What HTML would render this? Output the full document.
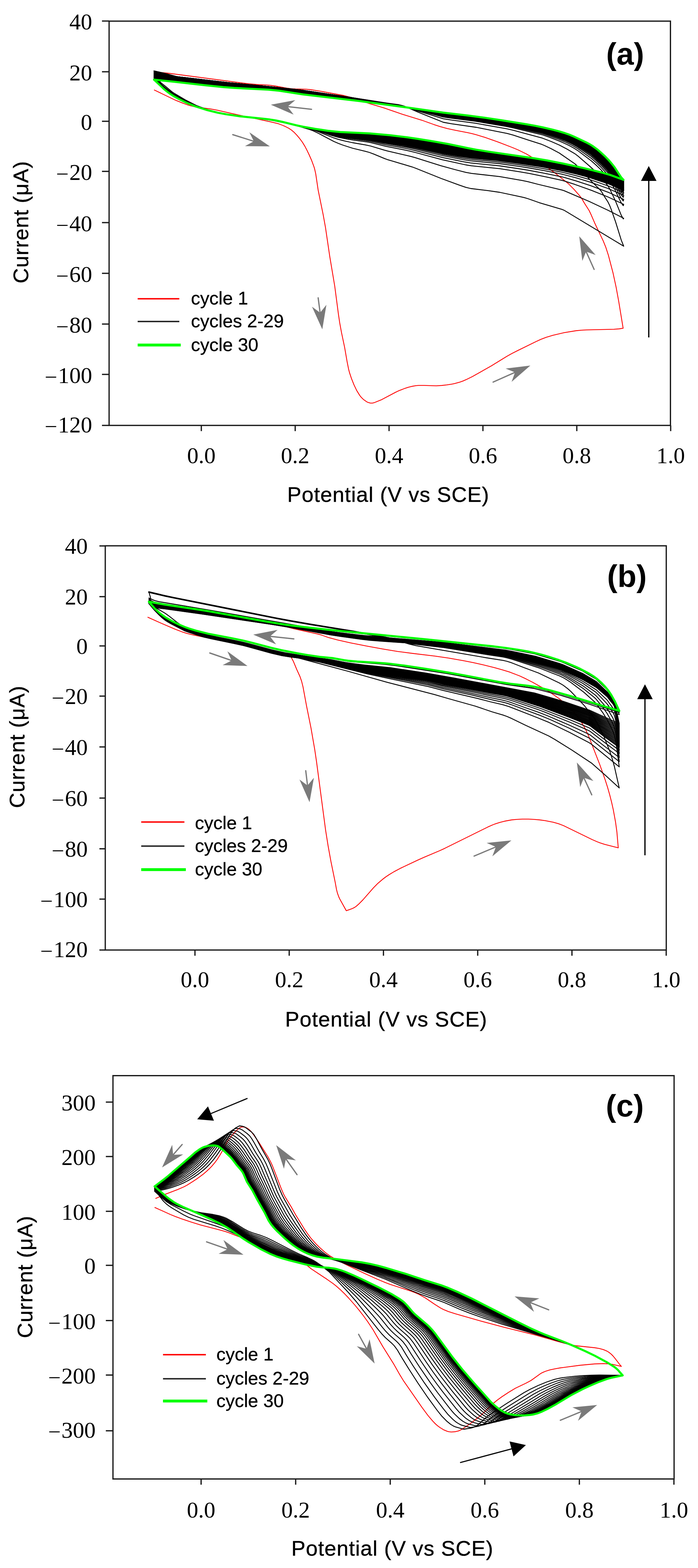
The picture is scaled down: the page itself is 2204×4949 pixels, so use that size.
<!DOCTYPE html>
<html><head><meta charset="utf-8"><title>Cyclic voltammograms</title>
<style>html,body{margin:0;padding:0;background:#fff;} svg{display:block;}</style></head>
<body>
<svg width="2204" height="4949" viewBox="0 0 2204 4949">
<rect width="2204" height="4949" fill="#fff"/>
<rect x="344.5" y="66.7" width="1772.5" height="1276.0" fill="none" stroke="#1a1a1a" stroke-width="4"/>
<line x1="322.0" y1="66.4" x2="344.5" y2="66.4" stroke="#1a1a1a" stroke-width="4"/>
<line x1="322.0" y1="226.5" x2="344.5" y2="226.5" stroke="#1a1a1a" stroke-width="4"/>
<line x1="322.0" y1="382.8" x2="344.5" y2="382.8" stroke="#1a1a1a" stroke-width="4"/>
<line x1="322.0" y1="540.9" x2="344.5" y2="540.9" stroke="#1a1a1a" stroke-width="4"/>
<line x1="322.0" y1="702.6" x2="344.5" y2="702.6" stroke="#1a1a1a" stroke-width="4"/>
<line x1="322.0" y1="862.7" x2="344.5" y2="862.7" stroke="#1a1a1a" stroke-width="4"/>
<line x1="322.0" y1="1022.8" x2="344.5" y2="1022.8" stroke="#1a1a1a" stroke-width="4"/>
<line x1="322.0" y1="1181.7" x2="344.5" y2="1181.7" stroke="#1a1a1a" stroke-width="4"/>
<line x1="322.0" y1="1342.7" x2="344.5" y2="1342.7" stroke="#1a1a1a" stroke-width="4"/>
<line x1="635.7" y1="1342.7" x2="635.7" y2="1360.7" stroke="#1a1a1a" stroke-width="4"/>
<line x1="932.1" y1="1342.7" x2="932.1" y2="1360.7" stroke="#1a1a1a" stroke-width="4"/>
<line x1="1228.5" y1="1342.7" x2="1228.5" y2="1360.7" stroke="#1a1a1a" stroke-width="4"/>
<line x1="1524.9" y1="1342.7" x2="1524.9" y2="1360.7" stroke="#1a1a1a" stroke-width="4"/>
<line x1="1821.3" y1="1342.7" x2="1821.3" y2="1360.7" stroke="#1a1a1a" stroke-width="4"/>
<line x1="2117.7" y1="1342.7" x2="2117.7" y2="1360.7" stroke="#1a1a1a" stroke-width="4"/>
<text x="291" y="93.4" text-anchor="end" font-family="'Liberation Serif','Times New Roman',serif" font-size="72">40</text>
<text x="291" y="253.5" text-anchor="end" font-family="'Liberation Serif','Times New Roman',serif" font-size="72">20</text>
<text x="291" y="409.8" text-anchor="end" font-family="'Liberation Serif','Times New Roman',serif" font-size="72">0</text>
<text x="291" y="567.9" text-anchor="end" font-family="'Liberation Serif','Times New Roman',serif" font-size="72"><tspan font-size="64" dy="-4">–</tspan><tspan dx="6" dy="4">20</tspan></text>
<text x="291" y="729.6" text-anchor="end" font-family="'Liberation Serif','Times New Roman',serif" font-size="72"><tspan font-size="64" dy="-4">–</tspan><tspan dx="6" dy="4">40</tspan></text>
<text x="291" y="889.7" text-anchor="end" font-family="'Liberation Serif','Times New Roman',serif" font-size="72"><tspan font-size="64" dy="-4">–</tspan><tspan dx="6" dy="4">60</tspan></text>
<text x="291" y="1049.8" text-anchor="end" font-family="'Liberation Serif','Times New Roman',serif" font-size="72"><tspan font-size="64" dy="-4">–</tspan><tspan dx="6" dy="4">80</tspan></text>
<text x="291" y="1208.7" text-anchor="end" font-family="'Liberation Serif','Times New Roman',serif" font-size="72"><tspan font-size="64" dy="-4">–</tspan><tspan dx="6" dy="4">100</tspan></text>
<text x="291" y="1364.6" text-anchor="end" font-family="'Liberation Serif','Times New Roman',serif" font-size="72"><tspan font-size="64" dy="-4">–</tspan><tspan dx="6" dy="4">120</tspan></text>
<text x="635.7" y="1462" text-anchor="middle" font-family="'Liberation Serif','Times New Roman',serif" font-size="72">0.0</text>
<text x="932.1" y="1462" text-anchor="middle" font-family="'Liberation Serif','Times New Roman',serif" font-size="72">0.2</text>
<text x="1228.5" y="1462" text-anchor="middle" font-family="'Liberation Serif','Times New Roman',serif" font-size="72">0.4</text>
<text x="1524.9" y="1462" text-anchor="middle" font-family="'Liberation Serif','Times New Roman',serif" font-size="72">0.6</text>
<text x="1821.3" y="1462" text-anchor="middle" font-family="'Liberation Serif','Times New Roman',serif" font-size="72">0.8</text>
<text x="2117.7" y="1462" text-anchor="middle" font-family="'Liberation Serif','Times New Roman',serif" font-size="72">1.0</text>
<text x="1226" y="1583.5" text-anchor="middle" font-family="'Liberation Sans',Arial,sans-serif" font-size="67" letter-spacing="1.4" stroke="#000" stroke-width="0.6">Potential (V vs SCE)</text>
<text transform="translate(89,701) rotate(-90)" x="0" y="0" text-anchor="middle" font-family="'Liberation Sans',Arial,sans-serif" font-size="67" letter-spacing="1.4" stroke="#000" stroke-width="0.6">Current (μA)</text>
<text x="1914" y="204" font-family="'Liberation Sans',Arial,sans-serif" font-weight="bold" font-size="98">(a)</text>
<rect x="332.4" y="1722.7" width="1771.4" height="1275.8" fill="none" stroke="#1a1a1a" stroke-width="4"/>
<line x1="313.9" y1="1723.1" x2="332.4" y2="1723.1" stroke="#1a1a1a" stroke-width="4"/>
<line x1="313.9" y1="1883.2" x2="332.4" y2="1883.2" stroke="#1a1a1a" stroke-width="4"/>
<line x1="313.9" y1="2038.7" x2="332.4" y2="2038.7" stroke="#1a1a1a" stroke-width="4"/>
<line x1="313.9" y1="2197.1" x2="332.4" y2="2197.1" stroke="#1a1a1a" stroke-width="4"/>
<line x1="313.9" y1="2357.5" x2="332.4" y2="2357.5" stroke="#1a1a1a" stroke-width="4"/>
<line x1="313.9" y1="2518.9" x2="332.4" y2="2518.9" stroke="#1a1a1a" stroke-width="4"/>
<line x1="313.9" y1="2679.0" x2="332.4" y2="2679.0" stroke="#1a1a1a" stroke-width="4"/>
<line x1="313.9" y1="2837.8" x2="332.4" y2="2837.8" stroke="#1a1a1a" stroke-width="4"/>
<line x1="313.9" y1="2998.5" x2="332.4" y2="2998.5" stroke="#1a1a1a" stroke-width="4"/>
<line x1="615.6" y1="2998.5" x2="615.6" y2="3016.5" stroke="#1a1a1a" stroke-width="4"/>
<line x1="913.2" y1="2998.5" x2="913.2" y2="3016.5" stroke="#1a1a1a" stroke-width="4"/>
<line x1="1210.8" y1="2998.5" x2="1210.8" y2="3016.5" stroke="#1a1a1a" stroke-width="4"/>
<line x1="1508.4" y1="2998.5" x2="1508.4" y2="3016.5" stroke="#1a1a1a" stroke-width="4"/>
<line x1="1806.0" y1="2998.5" x2="1806.0" y2="3016.5" stroke="#1a1a1a" stroke-width="4"/>
<line x1="2103.6" y1="2998.5" x2="2103.6" y2="3016.5" stroke="#1a1a1a" stroke-width="4"/>
<text x="277" y="1748.1" text-anchor="end" font-family="'Liberation Serif','Times New Roman',serif" font-size="72">40</text>
<text x="277" y="1908.2" text-anchor="end" font-family="'Liberation Serif','Times New Roman',serif" font-size="72">20</text>
<text x="277" y="2063.7" text-anchor="end" font-family="'Liberation Serif','Times New Roman',serif" font-size="72">0</text>
<text x="277" y="2222.1" text-anchor="end" font-family="'Liberation Serif','Times New Roman',serif" font-size="72"><tspan font-size="64" dy="-4">–</tspan><tspan dx="6" dy="4">20</tspan></text>
<text x="277" y="2382.5" text-anchor="end" font-family="'Liberation Serif','Times New Roman',serif" font-size="72"><tspan font-size="64" dy="-4">–</tspan><tspan dx="6" dy="4">40</tspan></text>
<text x="277" y="2543.9" text-anchor="end" font-family="'Liberation Serif','Times New Roman',serif" font-size="72"><tspan font-size="64" dy="-4">–</tspan><tspan dx="6" dy="4">60</tspan></text>
<text x="277" y="2704.0" text-anchor="end" font-family="'Liberation Serif','Times New Roman',serif" font-size="72"><tspan font-size="64" dy="-4">–</tspan><tspan dx="6" dy="4">80</tspan></text>
<text x="277" y="2862.8" text-anchor="end" font-family="'Liberation Serif','Times New Roman',serif" font-size="72"><tspan font-size="64" dy="-4">–</tspan><tspan dx="6" dy="4">100</tspan></text>
<text x="277" y="3021.0" text-anchor="end" font-family="'Liberation Serif','Times New Roman',serif" font-size="72"><tspan font-size="64" dy="-4">–</tspan><tspan dx="6" dy="4">120</tspan></text>
<text x="615.6" y="3115.5" text-anchor="middle" font-family="'Liberation Serif','Times New Roman',serif" font-size="72">0.0</text>
<text x="913.2" y="3115.5" text-anchor="middle" font-family="'Liberation Serif','Times New Roman',serif" font-size="72">0.2</text>
<text x="1210.8" y="3115.5" text-anchor="middle" font-family="'Liberation Serif','Times New Roman',serif" font-size="72">0.4</text>
<text x="1508.4" y="3115.5" text-anchor="middle" font-family="'Liberation Serif','Times New Roman',serif" font-size="72">0.6</text>
<text x="1806.0" y="3115.5" text-anchor="middle" font-family="'Liberation Serif','Times New Roman',serif" font-size="72">0.8</text>
<text x="2103.6" y="3115.5" text-anchor="middle" font-family="'Liberation Serif','Times New Roman',serif" font-size="72">1.0</text>
<text x="1219.5" y="3240" text-anchor="middle" font-family="'Liberation Sans',Arial,sans-serif" font-size="67" letter-spacing="1.4" stroke="#000" stroke-width="0.6">Potential (V vs SCE)</text>
<text transform="translate(77.3,2357) rotate(-90)" x="0" y="0" text-anchor="middle" font-family="'Liberation Sans',Arial,sans-serif" font-size="67" letter-spacing="1.4" stroke="#000" stroke-width="0.6">Current (μA)</text>
<text x="1917" y="1851.5" font-family="'Liberation Sans',Arial,sans-serif" font-weight="bold" font-size="98">(b)</text>
<rect x="356.7" y="3395" width="1771.8" height="1273.0" fill="none" stroke="#1a1a1a" stroke-width="4"/>
<line x1="334.2" y1="3478.5" x2="356.7" y2="3478.5" stroke="#1a1a1a" stroke-width="4"/>
<line x1="334.2" y1="3650.3" x2="356.7" y2="3650.3" stroke="#1a1a1a" stroke-width="4"/>
<line x1="334.2" y1="3823.2" x2="356.7" y2="3823.2" stroke="#1a1a1a" stroke-width="4"/>
<line x1="334.2" y1="3993.7" x2="356.7" y2="3993.7" stroke="#1a1a1a" stroke-width="4"/>
<line x1="334.2" y1="4168.0" x2="356.7" y2="4168.0" stroke="#1a1a1a" stroke-width="4"/>
<line x1="334.2" y1="4340.0" x2="356.7" y2="4340.0" stroke="#1a1a1a" stroke-width="4"/>
<line x1="334.2" y1="4515.9" x2="356.7" y2="4515.9" stroke="#1a1a1a" stroke-width="4"/>
<line x1="635.0" y1="4668" x2="635.0" y2="4686.0" stroke="#1a1a1a" stroke-width="4"/>
<line x1="933.6" y1="4668" x2="933.6" y2="4686.0" stroke="#1a1a1a" stroke-width="4"/>
<line x1="1232.2" y1="4668" x2="1232.2" y2="4686.0" stroke="#1a1a1a" stroke-width="4"/>
<line x1="1530.8" y1="4668" x2="1530.8" y2="4686.0" stroke="#1a1a1a" stroke-width="4"/>
<line x1="1829.4" y1="4668" x2="1829.4" y2="4686.0" stroke="#1a1a1a" stroke-width="4"/>
<line x1="2128.0" y1="4668" x2="2128.0" y2="4686.0" stroke="#1a1a1a" stroke-width="4"/>
<text x="302" y="3505.0" text-anchor="end" font-family="'Liberation Serif','Times New Roman',serif" font-size="72">300</text>
<text x="302" y="3676.8" text-anchor="end" font-family="'Liberation Serif','Times New Roman',serif" font-size="72">200</text>
<text x="302" y="3849.7" text-anchor="end" font-family="'Liberation Serif','Times New Roman',serif" font-size="72">100</text>
<text x="302" y="4020.2" text-anchor="end" font-family="'Liberation Serif','Times New Roman',serif" font-size="72">0</text>
<text x="302" y="4194.5" text-anchor="end" font-family="'Liberation Serif','Times New Roman',serif" font-size="72"><tspan font-size="64" dy="-4">–</tspan><tspan dx="6" dy="4">100</tspan></text>
<text x="302" y="4366.5" text-anchor="end" font-family="'Liberation Serif','Times New Roman',serif" font-size="72"><tspan font-size="64" dy="-4">–</tspan><tspan dx="6" dy="4">200</tspan></text>
<text x="302" y="4537.5" text-anchor="end" font-family="'Liberation Serif','Times New Roman',serif" font-size="72"><tspan font-size="64" dy="-4">–</tspan><tspan dx="6" dy="4">300</tspan></text>
<text x="635.0" y="4790" text-anchor="middle" font-family="'Liberation Serif','Times New Roman',serif" font-size="72">0.0</text>
<text x="933.6" y="4790" text-anchor="middle" font-family="'Liberation Serif','Times New Roman',serif" font-size="72">0.2</text>
<text x="1232.2" y="4790" text-anchor="middle" font-family="'Liberation Serif','Times New Roman',serif" font-size="72">0.4</text>
<text x="1530.8" y="4790" text-anchor="middle" font-family="'Liberation Serif','Times New Roman',serif" font-size="72">0.6</text>
<text x="1829.4" y="4790" text-anchor="middle" font-family="'Liberation Serif','Times New Roman',serif" font-size="72">0.8</text>
<text x="2128.0" y="4790" text-anchor="middle" font-family="'Liberation Serif','Times New Roman',serif" font-size="72">1.0</text>
<text x="1239" y="4910" text-anchor="middle" font-family="'Liberation Sans',Arial,sans-serif" font-size="67" letter-spacing="1.4" stroke="#000" stroke-width="0.6">Potential (V vs SCE)</text>
<text transform="translate(101.5,4030) rotate(-90)" x="0" y="0" text-anchor="middle" font-family="'Liberation Sans',Arial,sans-serif" font-size="67" letter-spacing="1.4" stroke="#000" stroke-width="0.6">Current (μA)</text>
<text x="1913" y="3524" font-family="'Liberation Sans',Arial,sans-serif" font-weight="bold" font-size="98">(c)</text>
<path d="M487.4 284.2l67.9 32.6 23.2 9.2 12.3 4.4 12.7 3.9 13.9 3.3 7.6 1.3 39.4 4.9 21.7 4 50.5 11.5 117.3 25.3 21.1 4.8 5.6 1.7 11.9 4.5 9.5 4.2 9.5 4.9 8.8 5.8 8.6 7.3 8.2 8.5 7.6 9 10.1 13.5 8.1 13.2 4.9 9.3 7.7 15.8 8.4 19 7.5 20.3 2.1 7 3.5 15.6 7.6 51 15.9 77.9 7.2 39.8 13.5 91.5 15.8 94.2 11.5 87.6 4.1 27.5 5.6 30.4 10.1 48.1 7.8 45.1 4.5 22.5 2.8 10.9 6.6 19.8 7.7 19.2 8.6 18 9.4 15.3 4.9 6.1 6.8 6.8 10.8 7.6 3.7 1.8 7.5 2.1 6.8 0 6.8-1.8 22.5-9.2 43.8-23.2 8.7-4.2 20.1-7.9 11.3-3.6 11.4-2.9 12.4-2.1 8.4-.8 18 0 37.8 1.3 17.5-1.2 16.5-1.8 16.2-2.5 8.2-1.7 16.5-4.6 9.7-3.5 9.7-4.2 19.8-9.7 59.4-33.4 49.2-30.3 16-9 19.5-9.9 55.9-27.4 15.9-7.3 16.9-6.5 21.6-6.6 35.1-8.2 37.5-6.1 16.1-1.6 17.8-1.1 86-2 17.3-1.3 11.9-1.9-13.8-83.9-8.3-45.3-9.7-44.9-14.7-56.1-8.5-26.1-7.7-18.9-27-56.7-11.5-26.7-6.1-12.8-15.7-24.6-6.8-12-7-9.6-18.6-21.1-18.1-18.1-38.5-30.8-18.6-13.6-43.1-29.4-22.4-14-10-5.7-25.5-12.6-19.4-8-43.8-16.9-41.1-14.4-27.1-8.3-13.1-3.4-13.3-3.1-40.2-7.8-25.7-5.5-22.7-6.1-20.1-6.7-37.7-13.5-61-18.6-58.8-20.4-46-13.6-57.8-19.5-23.2-5.9-70.6-13.1-34.3-5.4-14.9-1.4-31.9-.7-13.3-.8-16.6-2.3-34.8-6.3-16.6-2.4-12.8-1-24.4-.9-30.4-2.7-250.7-33-43.7-4.4" fill="none" stroke="#ff0000" stroke-width="2.6" stroke-linejoin="round" stroke-linecap="round"/>
<path d="M486.5 224l7.5 16 12 18.9 3.8 3.6 9.4 7.3 24.3 20.3 5.6 3.8 35.5 21.1 37.5 18.9 46.1 16.8 10.8 3.3 9.3 2.1 27.1 4.1 33.6 5.8 51 6 61 8.4 37.4 7.5 48 11.8 30.4 8.8 11.1 3.9 18 8.6 47.8 25.2 14.5 6.3 13.1 5 32.6 10.5 39.9 9.6 12.2 3.4 13.8 5.1 35.6 14.8 8.3 2.9 77.3 23 10.3 3.7 81 32.5 56.9 20.9 21.9 7.4 15.3 3.7 54.4 6.6 37.1 5.4 64 13.6 13.4 3.1 11.5 3.3 36.3 12.8 73 21.6 6.8 3.2 186.5 112.4-7.8-19.3-17.6-56.7-13.9-39.8-4.8-12.3-5.7-11.6-12.1-18.6-7-12-3.5-4.9-6.1-6.8-23-22.3-43.9-47.6-8.3-7.7-49.7-34.4-25.8-13.7-21.1-10.1-8.4-3.5-44-14-45.3-15.1-20.4-5.5-96.4-19.1-79-11.4-25.6-4.6-80-32.1-40.5-17.7-9.5-3.2-12.7-2.8-33.5-4.5-129.4-20.2-140.4-20.9-102.5-11.1-131.8-12.8-158.4-18.3-5.8-1.1-33.8-9.2-35.2-8.1" fill="none" stroke="#000" stroke-width="2.8" stroke-linejoin="round" stroke-linecap="round"/>
<path d="M486.5 233.6l7.5 12.9 12 16.2 6 5.6 18.1 14.8 17.1 13 34.1 19.4 13.1 6.8 20.4 9.7 7.7 3 51.2 17.5 14.6 3.5 56.6 9.4 97 11.5 28.1 4.4 28.4 5.9 78.4 19.3 11.8 3.4 17.3 6.3 47.8 19 14.5 4.6 19.7 5.1 26 5.6 39.9 6.9 16.9 3.6 42 12.7 11.1 2.9 73 17 14.5 4.1 81 25.4 45 12.4 33.8 8.6 18.2 3.3 88.6 9.9 70.7 12.4 18.1 3.7 33.3 8.6 73.9 17.6 7.3 2.3 78.6 33.6 60.8 28.4 48.8 25.1-1.3 2-6.5-11.7-17.6-43.6-18.7-39.7-7.5-11.7-15.2-20.1-11.7-13.1-29.4-27-36.8-31.8-9-6.8-25.9-15.2-23.8-12.6-25.8-11.2-29.5-11.2-89.3-23.9-20.4-4.7-100.1-17.8-75.3-10-25.6-4-80-24.5-45.2-14.9-17.5-3.8-47.1-7-102.8-17.1-153.4-23-102.5-11.1-131.8-12.8-158.4-18.3-5.8-1.1-33.8-9.2-35.2-8.1" fill="none" stroke="#000" stroke-width="2.8" stroke-linejoin="round" stroke-linecap="round"/>
<path d="M486.5 238.4l9 13.3 12.3 14.7 8.9 7.9 13.4 10.9 13.4 10.2 5.7 3.6 25.2 14.1 35.1 17.4 10.5 4.2 53.7 17.8 14.6 3.4 56.6 9.5 87.5 10 28.6 4 27.7 5.3 37.2 8.8 31 7.9 31.7 7.1 17.3 5.3 39.6 13.4 22.7 6.2 26.2 5.2 19.5 3.2 46.1 6.4 10.7 2 47.8 11.7 51.5 9.9 22.6 4.9 21.6 5.3 82.9 22.3 74 16.2 18.2 2.9 88.6 9 63.9 10 30.2 5.3 53.4 10.9 48.5 10.5 9.9 2.7 31.8 10.4 51.6 18.4 53.4 21.4 48.8 23-1.5 4.3-6.3-9.2-6.8-13.5-13.3-28.5-9.2-16.7-11-17.6-14-17.1-10.3-11.4-13.3-12.9-16-14.3-43-32.6-12.2-7.8-14-7.6-8.7-4.4-23.8-10.6-33.4-12.7-18.7-6.4-92.5-22.2-24.1-4.9-96.4-16.2-75.3-9.6-25.6-3.7-91.8-23.9-28.8-8.3-15.5-3.6-53.7-8.3-102.8-17.6-153.4-23.1-102.5-11.1-131.8-12.8-158.4-18.3-5.8-1.1-33.8-9.2-35.2-8.1" fill="none" stroke="#000" stroke-width="2.8" stroke-linejoin="round" stroke-linecap="round"/>
<path d="M486.5 240.2l9 12.6 8.8 10.6 5.5 5.6 11.8 10.2 14 11 7.9 5.8 10.1 6.2 31 16.6 16.3 8.1 13.9 6.1 47.8 16.1 16.4 4.8 13.9 2.8 56.1 9.3 83.4 9.3 28.6 4 18.1 3.3 28.9 6.4 51.9 12.9 26 5.4 14.1 3.9 45.5 14.2 22.7 5.7 13.2 2.6 26 4 46.4 5.9 16.9 2.7 47.8 10.8 45.4 8.1 28.7 5.8 15.7 3.6 88.8 22.5 63.7 13 25.6 4.3 91.5 9.1 63.9 9.5 24.9 4 47.2 8.8 60 12.3 9.9 2.5 34.7 10.2 46.2 15.1 58.3 22 46.4 21.3-1.5 5.2-6.3-8.4-6.8-12.6-13.3-26.8-11.6-19.3-10.4-15-20.2-22.7-15.6-15.1-16-14.1-44.1-31.7-14.5-8.5-10.6-5.5-9.2-4.5-23.3-9.7-33.4-12.1-18.7-6.1-85.8-19.7-27.1-5.6-96.4-16-104.6-13.6-85.8-20.8-44.2-11.5-12.8-2.4-51.8-8-98-17-153.4-23.1-102.5-11.1-131.8-12.8-158.4-18.3-5.8-1.1-33.8-9.2-35.2-8.1" fill="none" stroke="#000" stroke-width="2.8" stroke-linejoin="round" stroke-linecap="round"/>
<path d="M486.5 241.5l6 8.3 10.3 12.4 5 5.4 6.5 6 7.3 6.2 18.4 14.2 13.6 8.7 17.4 9.5 38.5 18.9 13 4.8 40.1 13.2 16.4 4.8 13.9 2.8 56.1 9.3 83.4 9.3 37.6 5.4 28.4 6 55.6 13.7 34.6 7.2 56.9 16.4 22.7 5.4 26.2 4.2 26.1 3.5 33.3 3.7 16.9 2.5 42 8.9 44.5 7.6 31.1 5.9 20 4.3 86.8 21 65.7 12.6 25.6 4.1 91.5 8.8 63.9 9.2 24.9 3.8 52.4 9.1 54.8 11 44.6 11.6 43.8 13.2 57.8 20.6 49.3 21.8-1.5 6-6.3-7.7-6.8-11.9-13.3-25.6-11.6-18.1-10.4-14.3-18.1-19.8-21.4-20.4-12.3-10.6-23.8-16.8-20.3-13.6-14.5-8.2-10.6-5.4-12-5.4-20.5-8-33.4-11.7-18.7-5.9-109.1-23.8-103.9-16.9-75.3-9.3-25.6-3.6-88.7-20.3-41.3-10.2-90.3-14.8-78.8-13.8-146.9-22.1-102.5-11.1-131.8-12.8-158.4-18.3-5.8-1.1-33.8-9.2-35.2-8.1" fill="none" stroke="#000" stroke-width="2.8" stroke-linejoin="round" stroke-linecap="round"/>
<path d="M486.5 242.5l9 11.7 10.5 12 6 5.7 9.6 8.3 11.3 8.9 9 6.7 9.4 5.9 26.6 14.3 26.1 12.8 8.4 3.6 44.6 14.9 22 6.6 13.9 2.8 56.1 9.3 83.4 9.2 37.6 5.5 28.4 5.9 55.6 13.7 34.6 7 56.9 15.7 16 3.8 26.4 4.4 78.1 9.2 49.4 9.7 54.6 8.9 44.2 9.1 80.9 18.9 65.7 12 25.6 3.9 74.5 6.9 25.5 2.8 68.8 9.8 55.5 8.9 65.4 12.6 42.4 10.4 43.8 12.5 60.7 20.9 46.4 20.3-1.9 6.1-5.9-6.9-6.8-11.4-13.3-24.6-11.6-17.3-12.2-15.8-16.3-17.3-25-23.4-8.7-7.3-23.8-16.3-20.3-13.1-25.1-13.3-12-5.3-25.5-9.4-28.4-9.6-18.7-5.7-92.5-20-20.4-3.9-96.4-15.5-89.6-11.1-17.9-2.7-82.9-18.3-34.8-8.5-15.5-3.2-67.6-10.8-95.4-16.7-146.9-22.1-102.5-11.1-131.8-12.8-158.4-18.3-5.8-1.1-33.8-9.2-35.2-8.1" fill="none" stroke="#000" stroke-width="2.8" stroke-linejoin="round" stroke-linecap="round"/>
<path d="M486.5 243.2l6 7.9 10.3 11.9 11.5 11.3 15.8 13 11.8 8.8 14.1 8.6 25.3 13.2 28.2 13.5 5.3 2.1 42.2 13.8 22 6.6 13.9 2.8 56.1 9.3 83.4 9.2 37.6 5.4 38 8.2 48.9 12.1 36.8 7.4 51.8 13.9 16 3.6 26.4 4.2 78.1 8.7 49.4 9.3 48.5 7.5 47.4 9.3 83.8 19 54.2 9.6 40.1 6 80.6 7.3 71.8 9.6 68.9 10.4 65.4 12.3 42.4 9.8 32.4 8.6 16.3 4.9 55.8 18.7 46.4 20-1.9 6.5-3.8-3.9-6.4-9.4-13.3-23.8-5.5-8.9-8.6-12.1-10.4-13.3-14.3-15.3-28.8-26.9-8.7-7.2-23.8-15.9-20.3-12.8-14.5-7.8-16.8-8.1-31.3-11.4-47.1-15-109.1-22.7-100.2-16-79-9.7-28.5-4-80-17-47.1-10.8-67.1-10.9-108.4-18.9-140.5-21.1-102.5-11.1-131.8-12.8-158.4-18.3-5.8-1.1-33.8-9.2-35.2-8.1" fill="none" stroke="#000" stroke-width="2.8" stroke-linejoin="round" stroke-linecap="round"/>
<path d="M486.5 243.6l7.5 9.6 10.3 11.6 10 9.7 10 8.4 15.7 12 16 9.9 21.9 11.5 31.6 15.2 47.5 15.8 22 6.6 13.9 2.8 56.1 9.3 83.4 9.2 37.6 5.4 28.4 5.9 55.6 13.7 34.6 6.8 56.9 14.8 22.7 4.8 19.7 2.8 78.1 8.5 49.4 9 59.3 9.3 33.6 6.7 91.7 20.3 60.8 10.6 31.3 4.5 68.8 6.4 29.3 3.3 71.3 10 49.2 7.6 21.9 4 51.2 10 34.7 8.1 41.3 11.1 60.3 19.7 49.3 20.9-1.9 6.1-5.9-6.5-6.8-10.9-13.3-23.8-11.6-16.5-12.2-15.3-12.5-13.3-28.8-26.7-8.7-7.2-23.8-15.7-18.1-11.3-13.3-7.3-17.2-8.5-34.3-12.5-35.5-11.6-11.6-3.3-92.5-19.4-20.4-3.8-103.3-16.3-72.1-8.7-28.5-4-77.1-16.1-50-11.2-70-11.3-105.5-18.2-140.5-20.9-93-10.3-150.1-14.4-149.6-17.3-8.7-1.8-36.3-9.5-29.8-6.6" fill="none" stroke="#000" stroke-width="2.8" stroke-linejoin="round" stroke-linecap="round"/>
<path d="M486.5 244l6 7.7 11.8 13.3 12.4 11.8 16.2 13 9 6.6 14.1 8.6 21.9 11.4 31.6 15.2 58.7 19.3 10.8 3 13.9 2.8 56.1 9.3 83.4 9.1 37.6 5.4 28.4 6 58.5 14.3 31.7 6.1 56.9 14.5 16 3.5 26.4 3.9 78.1 8.2 49.4 8.9 54.6 8.3 35 6.7 92.1 20.2 63.7 11.2 36.9 5.2 72.3 6.9 16.4 2 75.1 10.5 63.9 10.2 50.7 9.8 29.4 6.6 15.7 3.7 38.6 10.4 60.3 19.5 49.3 20.7-1.9 5.7-5.9-6.4-6.8-10.9-7.1-12.9-9.2-15.3-11-15-9.8-12-12.5-13.3-25.2-23.3-12.3-10.4-34-22-10.1-6-28.3-14.4-6-2.5-28.3-9.9-47.1-14.8-92.5-19.2-20.4-3.8-100.1-15.8-75.3-9.1-25.6-3.5-73.6-15-62.5-13.5-48.5-7.5-88.2-15.2-45.7-7.3-121.6-17.9-51.9-6.1-47-5.1-137.1-12.8-162.6-18.6-8.7-1.8-33.4-8.5-32.7-7.1" fill="none" stroke="#000" stroke-width="2.8" stroke-linejoin="round" stroke-linecap="round"/>
<path d="M486.5 244.4l7.5 9.3 9.8 10.9 12.9 12.3 7.6 6.4 15.7 11.9 16 9.9 35.1 17.9 21.3 9.8 50.2 16.4 16.4 4.7 13.9 2.8 56.1 9.3 83.4 9.1 37.6 5.4 28.4 6 55.6 13.6 37.1 7.2 54.4 13.7 16 3.4 26.4 3.8 78.1 8 49.4 8.6 54.6 8.2 38.3 7.3 88.8 19.2 74 13 23.7 3.3 87.6 8.9 79.1 11.1 63.9 10.2 53.1 10.3 40 9.1 38.5 10.2 66 21.1 46.4 19.5-1.9 5.4-5.9-6.5-4.3-6.6-15.8-27.7-3-4.5-13.3-17.8-12.7-14.9-9.2-9.2-23.3-21.5-14.4-11.7-28.7-18.3-13.3-7.9-28.3-14.3-6-2.5-28.3-9.8-35.5-11.3-14.8-4.1-105.9-21.4-100.2-15.9-104.6-13.1-91.8-18.5-38.2-8.4-77.6-12.3-71.9-12.4-32.5-5.1-131.1-19.1-58.5-6.9-37.4-4-150.1-13.9-149.6-17.2-8.7-1.7-33.4-8.3-32.7-6.9" fill="none" stroke="#000" stroke-width="2.8" stroke-linejoin="round" stroke-linecap="round"/>
<path d="M486.5 244.8l7.5 9.2 9.8 10.8 12.9 12.3 10.5 8.6 14.7 11 16.6 10 32.6 16.4 18.4 8.6 53.1 17.5 16.4 4.7 13.9 2.8 56.1 9.3 83.4 9.1 37.6 5.4 38 8.2 48.9 12 34.2 6.5 54.4 13.4 16 3.3 26.4 3.7 78.1 7.7 52.5 9 45.4 6.5 41.1 7.6 95 20.1 71.1 12.5 29.8 4.1 60 6 29.3 3.5 71.3 10.1 63.9 10.2 50.7 9.8 29.4 6.6 13 3 43.8 11.7 63.2 20.2 33.8 14.5 10.1 3.9-1.9 5-5.9-6.4-4.3-6.6-14.7-25.7-4.1-6.3-13.3-17.7-11-13-9-9.2-25.2-23.2-12.3-10.2-41.9-26.1-13.3-7.1-17.2-8.3-8.8-3.5-31.8-10.7-29.2-9.2-14.8-4.1-105.9-21.2-100.2-15.8-104.6-13.1-80-15.8-56.1-11.7-56.1-8.6-119.8-19.8-124.8-18-64.8-7.9-46.9-5-136.1-12.2-151-17.2-8.9-1.4-36.3-8.7-32.7-6.7" fill="none" stroke="#000" stroke-width="2.8" stroke-linejoin="round" stroke-linecap="round"/>
<path d="M486.5 245.2l9.5 11.3 7.8 8.4 12.9 12.4 10.5 8.6 12.8 9.6 16 9.9 18.4 9.6 35.1 16.8 53.1 17.4 16.4 4.7 13.9 2.8 56.1 9.3 83.4 9.1 37.6 5.4 28.4 5.9 55.6 13.6 34.6 6.5 56.9 13.7 22.7 4.3 19.7 2.5 65.9 6.1 16.9 2 42 7.2 51.2 7.3 20 3.4 108.4 22.4 78.8 14.1 23.7 3.5 87.6 9.4 79.1 11.2 57.6 9 64.7 12.7 37.4 8.5 35.8 9.5 66 20.6 46.4 19.1-1.9 4.6-5.9-6.4-6.8-10.6-10.8-19.1-5.5-8.7-13.3-17.5-12.7-14.8-7.3-7.4-25.2-23-12.3-10.1-39.6-24.5-12.4-6.7-20.4-9.9-8.8-3.5-20.5-6.9-40.5-12.8-14.8-4-89.3-18-20.4-3.7-103.3-16.1-97.7-12.1-82.9-16.1-53.2-10.9-63.9-9.8-99.1-16.4-137.7-19.7-84.1-10.3-159.4-14.2-155.3-17.6-8.9-1.4-28.2-6.6-40.8-8.3" fill="none" stroke="#000" stroke-width="2.8" stroke-linejoin="round" stroke-linecap="round"/>
<path d="M486.5 245.6l7.5 8.9 12 12.9 13.2 12.2 22.7 17.4 14.1 8.5 18.4 9.6 35.1 16.8 53.1 17.3 16.4 4.7 13.9 2.8 56.1 9.3 92.9 10.2 28.1 4.2 28.4 6 55.6 13.6 34.6 6.4 56.9 13.4 22.7 4.2 19.7 2.4 65.9 5.9 16.9 2 44.7 7.4 41.8 5.7 26.7 4.4 113.2 23 86.1 15.2 28.9 3.7 70.3 7.6 79.1 11.2 57.6 9 64.7 12.7 34.7 7.8 38.5 10.1 66 20.3 36.3 15.2 10.1 3.8-1.9 4.2-5.9-6.3-6.8-10.6-13.3-23.2-3-4.4-13.3-17.3-12.7-14.9-7.3-7.3-25.2-22.9-12.3-10.1-30.8-19-13.3-7.7-28.3-14-8.8-3.4-25.5-8.4-35.5-11.1-14.8-4-109.7-21.5-96.4-15.1-104.6-13-85.8-16.4-50.3-10.1-53.7-8.1-89.7-14.8-32.5-4.9-134-18.8-74.9-9.2-37.2-3.6-126.5-10.8-151-17.1-8.9-1.4-42-9.2-27-5.1" fill="none" stroke="#000" stroke-width="2.8" stroke-linejoin="round" stroke-linecap="round"/>
<path d="M486.5 246l17.3 19.3 15.4 14.5 18.8 14.6 18 11.3 38.4 19.3 15.1 6.9 53.1 17.3 16.4 4.7 18.4 3.5 51.6 8.6 83.4 9 37.6 5.4 28.4 6 58.5 14.2 34.2 6.2 54.4 12.6 22.7 4.1 19.7 2.3 78.1 7 52.5 8.3 45.4 6.1 44.4 8 84 17.1 78.8 14.3 29.8 4.4 85.5 9.7 80.3 11.5 52.4 8.2 59.4 11.6 37.1 8.2 35.3 9.1 69.2 20.7 49.3 19.8-1.9 3.8-5.9-6.3-6.8-10.5-14.8-25.3-14.8-19.3-12.7-14.8-7.3-7.3-25.2-22.8-12.3-10-41.9-25.2-30.5-15.1-8.8-3.4-38.9-12.5-28.5-8.6-8.4-2.1-105.9-20.7-100.2-15.7-107.5-13.4-82.9-15.7-44.2-8.9-64.6-9.8-117.4-18.7-128.1-17.8-80.8-10.1-27.6-2.8-63.3-5-77.3-6.8-146.5-16.6-5.9-.8-34.1-7.3-37.9-7.1" fill="none" stroke="#000" stroke-width="2.8" stroke-linejoin="round" stroke-linecap="round"/>
<path d="M486.5 246.4l19.5 21.3 15.6 14.3 20.3 15.3 16.6 9.9 42.4 21 8.6 3.8 53.1 17.2 16.4 4.7 18.4 3.5 51.6 8.6 74.2 7.9 28.3 3.6 18.5 2.9 28.4 5.9 55.6 13.6 37.1 6.8 54.4 12.3 16 3 26.4 3.2 78.1 6.8 49.4 7.6 48.5 6.4 44.4 7.9 91.7 18.3 83.2 14.9 28.9 3.9 70.3 8 84.3 12.1 52.4 8.2 59.4 11.6 42.7 9.5 29.7 7.7 69.2 20.5 49.3 19.6-1.9 3.4-5.9-6.2-6.8-10.5-13.3-22.9-3-4.4-13.3-17-12.7-14.8-7.3-7.3-25.2-22.6-12.3-9.9-41.9-24.9-16.7-8.5-16.8-7.8-37.6-12.2-40.8-12.1-109.1-21.3-100.2-15.6-107.5-13.4-82.9-15.4-44.2-8.7-182-28.2-128.1-17.6-80.8-10.3-18.1-1.9-145.6-11.9-151-17-8.9-1.3-31.1-6.5-37.9-6.9" fill="none" stroke="#000" stroke-width="2.8" stroke-linejoin="round" stroke-linecap="round"/>
<path d="M486.5 246.8l17.3 18.8 15.4 14.5 20.8 16 18.5 11.2 42.4 21 8.6 3.8 53.1 17.1 16.4 4.7 18.4 3.5 51.6 8.6 74.2 7.9 46.8 6.4 28.4 6 55.6 13.6 39.7 7.2 51.8 11.5 16 2.9 26.4 3.1 78.1 6.5 57.8 8.6 40.1 5.1 41.1 7.2 101.2 19.8 80.2 14.4 18.2 2.6 77.8 9.1 72.8 10.4 63.9 9.9 54.8 10.7 38.5 8.3 41.7 10.6 66 19.4 49.3 19.4-1.9 3-5.9-6.2-6.8-10.4-14.8-25-14.8-19-12.7-14.7-7.3-7.3-25.2-22.5-12.3-9.9-39.6-23.3-15.6-8-20.2-9.4-31.3-10.1-47.1-14-109.1-21.1-103.9-16.1-100.9-12.3-130-24.1-81.7-12.3-80.9-12.8-130.7-17.9-97.6-12.7-37.2-3.5-58.9-4.4-72.1-6.1-146.5-16.5-8.9-1.3-36.3-7.2-32.7-5.7" fill="none" stroke="#000" stroke-width="2.8" stroke-linejoin="round" stroke-linecap="round"/>
<path d="M486.5 247.2l17.3 18.6 15.4 14.5 20.8 16 18.5 11.2 51 24.7 53.1 17 16.4 4.7 18.4 3.5 51.6 8.6 92.9 10.1 28.1 4.2 28.4 6 55.6 13.5 39.7 7.2 43.4 9.4 24.4 4.6 26.4 3 65.9 5.1 16.9 1.7 44.7 6.7 48.5 6.2 28.7 4.7 104.5 20.1 92.3 16.7 31.5 4.3 65.5 7.8 75.1 10.9 57.6 8.9 62 12.2 34.5 7.5 44.2 11.4 63.2 18.5 46.4 18.3-1.9 2.6-5.9-6.1-6.8-10.4-14.8-24.8-12.5-16-15-17.6-7.3-7.2-25.2-22.4-12.3-9.8-41.9-24.3-23.8-11.7-9.7-4.3-44.7-14.1-33.7-9.7-112.9-21.6-96.4-14.9-104.6-12.8-130-23.6-175.5-26.7-215.4-28.7-27.6-2.7-136.1-10.5-147.7-16.5-12.2-1.7-36.3-6.9-32.7-5.5" fill="none" stroke="#000" stroke-width="2.8" stroke-linejoin="round" stroke-linecap="round"/>
<path d="M486.5 247.6l19.5 20.6 15.6 14.3 20.3 15.2 16.6 9.9 39.2 19.3 11.8 5.3 53.1 17 16.4 4.7 18.4 3.5 51.6 8.6 92.9 10.1 28.1 4.2 38 8.2 46 11.3 42.6 7.6 32 6.9 32.9 6.2 26.4 2.9 78.1 6 49.4 7 48.5 6.1 37.1 6.2 148.3 28 45.5 8 87.6 10.9 128.3 18.9 65.4 12.7 32.9 7 50.8 12.8 63.2 18.3 46.4 18.2-1.9 2.1-5.9-6.1-6.8-10.3-12.2-20.7-4.1-6.1-13.3-16.5-12.7-14.7-7.3-7.2-25.2-22.3-12.3-9.7-39.6-22.8-32.8-15.9-6-2.3-20.3-6.3-55.1-16.2-92.5-17.8-24.1-4.1-92.7-14.3-104.6-12.8-130-23.2-175.5-26.3-215.4-28.6-27.6-2.7-71.5-5.1-69.1-5.6-143.2-16-12.2-1.7-36.3-6.6-32.7-5.3" fill="none" stroke="#000" stroke-width="2.8" stroke-linejoin="round" stroke-linecap="round"/>
<path d="M486.5 248l21.1 21.9 14 12.8 20.3 15.2 16.6 9.9 39.2 19.2 11.8 5.3 53.1 16.9 16.4 4.7 18.4 3.5 51.6 8.6 83.4 8.9 37.6 5.4 28.4 5.9 58.5 14.2 34.2 5.8 46 9.5 24.4 4.3 19.9 2.3 84.6 6.3 49.4 6.8 48.5 5.9 32.9 5.4 198 36.6 87.6 11.2 128.3 18.9 67.8 13.2 30.5 6.5 45.1 11.2 66 18.6 49.3 19-1.9 1.8-5.9-6.1-4.3-6.3-15.8-26.3-3-4.3-13.3-16.4-12.7-14.7-7.3-7.2-25.2-22.1-12.3-9.7-36.9-21-35.5-17.2-8.8-3.2-46.4-14-26.2-7.3-92.5-17.7-24.1-4.1-85.2-13.2-112.1-13.8-136.1-23.7-169.4-25-224.5-29.6-150.3-11.2-152-16.8-12.2-1.6-36.3-6.4-32.7-5.1" fill="none" stroke="#000" stroke-width="2.8" stroke-linejoin="round" stroke-linecap="round"/>
<path d="M486.5 248.4l19.5 20.1 15.6 14.3 20.3 15.2 16.6 9.9 39.2 19.2 11.8 5.3 47.5 15.1 22 6.4 18.4 3.5 51.6 8.6 83.4 8.9 37.6 5.3 28.4 6 58.5 14.1 31.6 5.3 48.6 9.7 24.4 4.3 19.9 2.1 84.6 6 46.7 6.3 57.3 6.9 47.1 8.2 177.7 32.8 26.1 3.7 57 7.1 132.8 19.6 63.2 12.3 38.5 8.1 44.6 11.2 66 18.5 46.4 17.9-1.9 1.4-5.9-6.1-6.8-10.1-14.8-24.5-7.8-9.9-19.7-23-7.3-7.2-25.2-22-10-8.1-39.2-22.3-35.5-17-8.8-3.2-53.9-16-18.7-5.1-92.5-17.5-24.1-4.1-92.7-14.2-104.6-12.7-136.1-23.2-169.4-24.7-140.5-18.1-74.9-10.4-27.6-2.7-78.7-5.3-70.8-5.7-137.6-15.4-77.9-12.2" fill="none" stroke="#000" stroke-width="2.8" stroke-linejoin="round" stroke-linecap="round"/>
<path d="M486.5 248.8l21.1 21.4 14 12.8 20.3 15.2 16.6 9.8 39.2 19.2 11.8 5.3 58.7 18.5 10.8 2.9 18.4 3.5 51.6 8.6 74.2 7.8 28.3 3.5 18.5 2.9 28.4 6 58.5 14.1 31.6 5.2 48.6 9.5 24.4 4.1 26.4 2.5 78.1 5.3 49.4 6.4 54.6 6.4 130 23 97.7 18.3 84.7 11.2 128.3 19 94.8 18.9 13 2.8 35.6 9.1 68.9 19 46.4 17.7-1.9 1-5.9-6-6.8-10.1-13.3-22.2-3-4.2-26-30.7-7.3-7.1-25.2-21.9-10-8-5.2-3.3-31.1-17.2-21.2-10.5-17.2-7.9-8.8-3.2-53.9-15.8-18.7-5-112.9-20.9-96.4-14.7-104.6-12.7-136.1-22.7-156.5-22.7-147.5-18.8-61.5-8.8-28.4-3.6-28.1-2.3-118-8-17.4-1.6-142.1-15.8-77.9-11.7" fill="none" stroke="#000" stroke-width="2.8" stroke-linejoin="round" stroke-linecap="round"/>
<path d="M486.5 249.1l24.6 24.7 10.5 9.4 18.4 13.9 18.5 11.1 42.4 20.6 11.5 4.8 50.2 15.7 16.4 4.6 18.4 3.5 51.6 8.6 74.2 7.8 28.3 3.5 18.5 2.9 18.7 3.7 68.2 16.3 43.1 7.2 53.8 10.1 21.1 2.5 72.4 4.6 23.4 1.9 39.5 5.1 59.8 6.9 130 22.6 97.7 18.5 92.5 12.6 123.7 18.4 62.2 12.3 42.4 8.9 35.6 9 68.9 18.8 46.4 17.5-1.9 .6-5.9-6-6.8-10-14.8-24.2-7.8-9.7-19.7-22.8-7.3-7.2-25.2-21.7-10-8-39.2-21.7-35.5-16.8-6-2.2-56.7-16.5-18.7-5-98.9-18.3-84.4-13.2-35.7-5.1-94.9-11.4-130-21.3-169.1-24.2-141-17.7-80.8-11.5-27.6-2.6-71.5-4.5-73.5-5.5-142.1-15.8-77.9-11.2" fill="none" stroke="#000" stroke-width="2.8" stroke-linejoin="round" stroke-linecap="round"/>
<path d="M486.5 249.5l24.6 24.4 10.5 9.5 20.3 15.1 16.6 9.8 42.4 20.6 11.5 4.8 55.8 17.3 10.8 2.9 18.4 3.5 51.6 8.6 74.2 7.8 18.7 2.2 28.1 4.1 28.4 6 58.5 14.1 34.2 5.5 46 8.6 16.7 2.7 14.4 1.9 13.2 1.1 84.6 5.2 104 12.1 125.1 21.4 102.6 19.5 14.4 2.3 74.3 10 127.5 19 98.5 19.8 44.6 11.1 66 17.7 46.4 17.4-1.9 .2-5.9-5.9-6.8-10-13.3-21.9-3-4.2-26-30.3-7.3-7.1-21.5-18.5-13.7-11-5.2-3.2-34-18.3-35.5-16.6-6-2.2-41.7-12-33.7-9.2-98.9-18.2-110.4-17-107.5-13-122.4-19.7-154.2-22-169.1-21.2-62.8-9.3-18.6-2.3-18.5-1.6-65.8-3.9-74.8-5.3-73.9-7.8-69.3-8-81.2-11" fill="none" stroke="#000" stroke-width="2.8" stroke-linejoin="round" stroke-linecap="round"/>
<path d="M486.5 249.9l28.5 27.9 9.3 7.9 15.7 11.7 21.3 12.5 48.2 22.8 58.7 18.3 15.5 3.9 65.3 11.1 83.4 8.8 37.6 5.3 28.4 6 53 12.9 8.5 1.7 36.7 5.8 57.2 10.1 14.4 1.8 13.2 1 65.9 3.6 23.4 1.8 99.3 11.3 130 21.9 100.9 19.4 81.5 11.4 131.5 19.6 104.6 21.1 43.8 11.1 60.7 16.1 46.4 17.2-1.9-.2-5.9-5.9-6.8-9.9-14.8-23.9-27.5-32.2-5.4-5.4-27.1-23.1-10-7.9-36.3-19.7-31.7-15-9.7-4.1-59.7-17.1-18.7-4.9-98.9-18-110.4-16.9-104.6-12.6-130-20.3-142.8-20.1-175.8-21.9-72.3-10.7-27.6-2.6-65.8-3.8-79.2-5.6-69.5-7.3-69.3-8-81.2-10.5" fill="none" stroke="#000" stroke-width="2.8" stroke-linejoin="round" stroke-linecap="round"/>
<path d="M486.5 250.3l28.5 27.7 9.3 7.9 17.6 12.9 19.4 11.3 48.2 22.7 58.7 18.2 15.5 3.9 65.3 11.1 83.4 8.8 28.6 3.8 27.7 5.3 71.2 16.8 33.8 5.2 60.1 10.3 21.1 2.2 91.1 5.1 104 11.4 130 21.5 97.7 19.1 92.5 13.3 123.7 18.5 104.6 21.1 43.8 11 57.8 15 49.3 17.9-1.9-.6-5.9-5.8-6.8-9.9-14.8-23.7-27.5-32-7.3-7.1-28.8-24.3-6.4-4.8-39.2-20.9-38.5-17.5-59.7-16.9-18.7-4.8-98.9-17.9-94-14.5-26.1-3.6-94.9-11.3-136.1-20.7-136.7-19-175.8-21.6-62.8-9.6-18.6-2.3-18.5-1.5-55-3-85.6-5.7-80.3-8.4-144.1-17.3" fill="none" stroke="#000" stroke-width="2.8" stroke-linejoin="round" stroke-linecap="round"/>
<path d="M486.5 250.7l28.5 27.4 9.3 8 15.7 11.6 21.3 12.5 39.6 18.9 11.5 4.8 55.8 17.1 15.5 3.9 65.3 11.1 74.2 7.7 37.8 4.9 27.7 5.2 68.2 16.3 96.9 15.6 7.7 1 19.9 1.5 78.6 4 110 11.5 130 21.1 100.9 19.9 213 31.5 101.7 20.4 44.2 11 60.3 15.4 49.3 17.7-3.8-2.6-6-6.9-21.1-32.7-26-29.8-5.4-5.4-30.7-25.8-6.4-4.8-5.2-3.1-34-17.5-38.5-17.3-66.9-18.6-14.7-3.6-101.7-18-96.9-14.7-112.1-13.6-130-19.4-122.7-16.8-65.8-8.5-121.6-14.4-80.8-12.2-27.6-2.5-71.5-3.9-73.5-5-75.9-7.9-144.1-16.8" fill="none" stroke="#000" stroke-width="2.8" stroke-linejoin="round" stroke-linecap="round"/>
<path d="M486.5 251.1l35.1 33 16.4 12.4 20.5 12.4 39.2 18.8 11.8 5.2 58.7 18.1 15.5 3.9 65.3 11.1 74.2 7.7 37.8 4.8 27.7 5.3 71.2 16.8 93.9 14.7 27.6 2.4 84.6 4.1 91.2 9.2 22.2 2.8 126.8 20.6 88.6 17.8 17.3 3 201.8 29.9 109.6 22.2 99.5 25.1 36.3 13.4 10.1 3.3-5.7-4.8-4.1-5-21.1-32.5-26-29.6-5.4-5.4-30.7-25.7-6.4-4.7-5.2-3.1-31.1-15.8-38.4-17.5-8.8-2.9-61.1-16.6-14.7-3.5-95.7-16.9-110.4-16.7-104.6-12.5-130-18.9-156.1-21.1-154-18.1-80.8-12.3-27.6-2.6-63.3-3.2-77.3-4.9-69.5-7.1-154.9-17.5" fill="none" stroke="#000" stroke-width="2.8" stroke-linejoin="round" stroke-linecap="round"/>
<path d="M486.5 251.5l35.1 32.8 18.4 13.7 21.3 12.5 48.2 22.5 58.7 18 15.5 3.9 65.3 11.1 83.4 8.7 28.6 3.8 27.7 5.3 68.2 16.2 88.7 13.7 15.9 2 13.4 1.1 91.1 4.2 97.9 9.6 15.5 2 117.7 18.6 107.5 21.4 209.3 31.4 95.1 19 12.2 2.6 101.8 25.4 46.4 16.5-5.7-5.2-4.1-4.9-18.1-28.3-3-4-26-29.5-7.3-6.9-28.8-24-6.4-4.7-5.2-3-34-17-35.5-15.9-8.8-2.9-75.8-19.9-105.9-18.3-100.2-15-104.6-12.5-125.3-17.8-154.2-20.6-160.6-18.7-80.8-12.4-18.1-1.9-19.1-1.3-48.4-2.2-78.1-4.7-74-7.4-73.7-8.6-81.2-8.4" fill="none" stroke="#000" stroke-width="2.8" stroke-linejoin="round" stroke-linecap="round"/>
<path d="M486.5 251.5l30.9 29.3 10 8.2 10 7.3 12.3 7.9 16 8.7 23.8 11.7 28 11.4 34.9 11 35.5 8.9 26.8 5 41 6 78.2 8 17.9 2.2 18.2 2.9 20.9 4.4 43.5 10.7 22.6 4.9 38.4 6.8 39.7 5.9 39.4 4.1 91.5 4.2 64.7 5.7 55.7 6.8 32.5 4.7 49.5 8 45.2 8 65.1 13.5 25.9 4.9 39.2 6.3 144 20.8 39.2 6.6 52.3 10.2 66.4 14.7 54.3 13.3 29.6 8.6 38.9 14.4" fill="none" stroke="#00ff00" stroke-width="6.5" stroke-linejoin="round" stroke-linecap="round"/>
<path d="M1968.5 567.5l-6.9-7.5-21.6-33-10.7-13.3-7.7-8.7-12.3-12.7-14.1-12.9-9.9-8.3-15.3-11.1-9.6-5.7-9.8-5.1-38.1-18-14.7-6.2-13.8-4.8-18.4-5.5-20.1-5.3-31.6-7.4-25-5.1-26.3-4.6-79.5-12.8-52.3-7.9-52.1-6.9-78.7-9.2-112.4-16-154-20.7-176.7-20.8-76.1-11.8-33.5-3.2-107.7-5.4-33.6-2.5-59.1-6-97.5-11.2-62.9-6.4" fill="none" stroke="#00ff00" stroke-width="6.5" stroke-linejoin="round" stroke-linecap="round"/>
<line x1="983.7" y1="345.1" x2="904.0" y2="336.0" stroke="#7a7a7a" stroke-width="4" stroke-linecap="round"/><polygon points="855.3,330.5 932.4,316.1 908.0,336.5 927.2,361.8" fill="#7a7a7a"/>
<line x1="735.0" y1="425.0" x2="805.3" y2="447.2" stroke="#7a7a7a" stroke-width="4" stroke-linecap="round"/><polygon points="852.0,462.0 773.6,461.3 801.5,446.0 787.4,417.5" fill="#7a7a7a"/>
<line x1="1004.6" y1="940.0" x2="1011.3" y2="990.8" stroke="#7a7a7a" stroke-width="4" stroke-linecap="round"/><polygon points="1017.7,1039.4 985.1,968.0 1010.8,986.9 1030.7,962.0" fill="#7a7a7a"/>
<line x1="1557.0" y1="1206.0" x2="1629.8" y2="1173.6" stroke="#7a7a7a" stroke-width="4" stroke-linecap="round"/><polygon points="1674.6,1153.7 1615.4,1205.2 1626.2,1175.2 1596.7,1163.2" fill="#7a7a7a"/>
<line x1="1876.0" y1="850.3" x2="1849.1" y2="790.4" stroke="#7a7a7a" stroke-width="4" stroke-linecap="round"/><polygon points="1829.0,745.7 1880.7,804.7 1850.7,794.0 1838.8,823.5" fill="#7a7a7a"/>
<line x1="2048.5" y1="1065.0" x2="2048.5" y2="569.0" stroke="#000" stroke-width="4"/><polygon points="2048.5,524.0 2073.0,571.0 2024.0,571.0" fill="#000"/>
<line x1="434.7" y1="942.9" x2="566.2" y2="942.9" stroke="#ff0000" stroke-width="4.5"/>
<line x1="434.7" y1="1014.7" x2="566.2" y2="1014.7" stroke="#222" stroke-width="4.5"/>
<line x1="434.7" y1="1089.1" x2="570.7" y2="1089.1" stroke="#00ff00" stroke-width="9"/>
<text x="603" y="961" font-family="'Liberation Sans',Arial,sans-serif" font-size="58" stroke="#000" stroke-width="0.5">cycle 1</text>
<text x="603" y="1032.6" font-family="'Liberation Sans',Arial,sans-serif" font-size="58" stroke="#000" stroke-width="0.5">cycles 2-29</text>
<text x="603" y="1108.3" font-family="'Liberation Sans',Arial,sans-serif" font-size="58" stroke="#000" stroke-width="0.5">cycle 30</text>
<path d="M467 1948.2l41 18.4 44 18.9 23.1 8.9 16 5 16.6 4.1 16.8 3.5 42.8 8.4 132.7 24.6 45.3 9.3 30.7 7 22.5 4.2 5.1 1.6 4.7 2.2 4.3 2.9 4.2 4.1 3.7 5.1 6.2 11.8 10.3 24.8 10.1 22.1 5.2 14.9 4.4 17.5 11.3 61 13.9 68.7 11.9 68.6 5.8 39.2 28.6 215.8 7.8 49 9 49.5 13.3 64.9 4.3 23.5 2.9 11.3 4.4 12.1 2.9 6.2 20.7 37.2 20-7.3 6.2-3.2 5.4-3.7 7.3-6.5 13.7-13.8 33.4-38.1 13.5-13.7 15-12.8 9.9-7.5 10.8-7.3 15.1-9.1 20.1-10.7 54.6-25.8 20.1-9 49.4-20.9 16.2-7.4 137.1-67.9 15.8-6.9 7.9-2.9 14.2-4.5 14.1-3.6 21.7-4 16.3-1.7 18.2-.9 18.7 0 18.6 .9 17.8 1.7 17.3 2.3 25.4 5.1 16.6 4.7 16 6.1 89.3 43.5 17.1 7.5 8.3 3.2 14.6 4.7 43 11-4.3-50.2-4.2-30.7-7.2-39.4-5.3-23.6-6-23.5-6.7-23.5-7.5-23.5-17.2-48.5-35.7-91.2-10.5-22.5-11.1-18.9-8-11.9-8.3-11.1-15.7-18-19.7-18.5-19-15.7-24-16.8-25.8-16-34.8-19.4-20.2-10.3-20.7-9.7-32.4-12.3-22.4-6.9-23.2-6.4-38.3-9.5-29.1-6.5-30.3-6-48.4-8.5-43.2-6.2-69.7-8.4-47.2-6.2-46.9-7.7-50.8-9.3-49.7-9.8-42.3-9.3-28.1-7.5-22.5-8-14.2-3.9-71.6-15.7-59.8-15.3-30.5-6.8-195.7-34.9-122-20-52-9" fill="none" stroke="#ff0000" stroke-width="2.6" stroke-linejoin="round" stroke-linecap="round"/>
<path d="M470.2 1868.8l4.8 16.2 2 21.1 2 5.4 1.9 2 10.6 5.1 14.1 7.7 16.4 9.7 12.3 8.9 26.4 20.6 10.3 7.1 34.7 16.4 14.3 6 5.9 1.8 90.2 21 49.9 12.2 45.8 11.8 288.2 77.2 122.9 34.6 147.9 38.2 45.2 13.2 84 23.5 54.6 18.5 33.8 9.9 11.6 4.1 14.9 6.4 44.3 21.6 73.7 34 18.8 10.7 54 33.7 62.8 41.6 45.6 40.3 41.2 37.7-15.3-67.7-7.1-25.2-6.9-21.5-21-52.6-24.6-47.5-2.8-4.6-31.9-40.1-43.6-45.8-10.1-8.9-14.3-10.7-12.2-7.1-65.5-31.3-47.2-17.5-37.9-14.8-14.9-4.7-11.6-2.6-53.4-8.4-221.5-38.1-21.4-5-50.3-15.6-29.4-6.8-118.7-21.6-95.8-15.3-109.9-19.3-340.2-68-30.1-6.2-47.5-11.3" fill="none" stroke="#000" stroke-width="2.8" stroke-linejoin="round" stroke-linecap="round"/>
<path d="M470.2 1887.6l4.8 10.7 2.9 12.9 2.6 4.4 3.8 3.5 25 19.3 18.4 13 13.2 8.7 30.1 18.7 7.1 3.8 12.9 5.6 19.8 7.8 12.3 4.3 31.6 8.4 111.3 24.9 91.5 24.5 30.5 7.5 32 6.8 90 17.4 149.4 37.1 73.6 15.7 120 24.5 47 12.3 107.4 24.9 40.7 10.7 40.3 9.4 18.8 5.7 89.9 35.1 35.8 14.7 64.8 31.4 59.5 31.1 6.9 4.1 6.5 4.9 84.7 69-10.7-78.6-4.6-20.9-3.3-9.8-12.1-25.5-9.7-17.7-11.4-18.3-21.9-29.8-4.4-4.8-33.3-29.9-41.8-31.4-13.5-8.9-10.9-6.4-12.2-5.7-23.2-8.7-38.5-15.3-89-28.6-14.8-4-11.6-2.4-40.3-6-145.3-23.7-102.8-11.8-67-11.5-83-11.1-50-8.2-59.8-9-152.2-27.1-233.2-40.6-153.2-25.8-13.1-3.3-18.3-8" fill="none" stroke="#000" stroke-width="2.8" stroke-linejoin="round" stroke-linecap="round"/>
<path d="M470.2 1892.3l4.8 9.4 2.8 9.9 2.7 4.5 3.8 3.8 17.2 14.7 20.5 15.7 32.4 20.5 23.7 13.4 22.6 9.3 33.1 11.2 34.1 8.3 48.2 10.3 49.9 11.3 30.5 7.8 60.9 16.7 30.6 7.5 32 6.3 64.2 10.8 25.8 4.8 11.5 2.5 115.1 28.5 22.8 5.2 193.6 37.4 49.8 12.7 87.1 18.9 70.5 16.7 28 5.9 11.6 3.1 14.8 4.9 89 33.1 33.9 13.8 60 27.3 61.8 30.4 9 6.1 86.8 68.8-6.8-58.2-3.7-27.4-2.2-11.9-4.2-14.7-5.4-11.7-16.5-28.9-13-18.2-18.9-23.2-3.6-4.2-5.9-5.3-33-26.6-40.1-26.8-13.5-8.3-10.9-6-7.8-3.6-66-24.3-89-27.3-14.8-3.9-11.6-2.3-33.8-4.9-154.6-24.8-100-9.8-58.2-8.2-98.7-12.1-43.1-6.9-50-7.3-207.7-36.7-198.3-33.1-146-23.3-9.5-2.7-18.3-8.9" fill="none" stroke="#000" stroke-width="2.8" stroke-linejoin="round" stroke-linecap="round"/>
<path d="M470.2 1896l4.8 8.2 4 10.2 5.3 6.2 24.9 22.1 8.4 6.6 10.1 7 20 12.2 35.3 19.3 22.8 8.5 31 10.2 17.9 4.6 111.3 24.1 91.4 24.7 30.6 7.3 32 6 64.2 9.8 25.8 4.5 16.4 3.6 110.2 26.9 22.8 5 190.6 34.6 50 12.5 89.9 18.7 64.7 14.4 28.2 5.6 17.2 4.2 14.8 4.7 44.4 16.1 37.9 13.1 30.8 11.9 72.1 30.9 57.2 26.6 6.9 3.9 35.9 28.3 55.3 42.5-8.4-77.1-1.9-14-2.3-12.3-2.7-10.3-5.1-11.7-15.6-25.5-14.3-18.5-22-24.7-5.8-5.1-35.1-26.1-38.5-23.5-18.6-10.6-15.2-7.2-66-23.2-89-26.2-14.8-3.8-11.6-2.2-46.8-7-141.6-22.5-100-8.5-67-7.8-73.6-7.9-109.4-16-129.9-23.4-62.6-10.8-202.7-32.8-137.1-21.3-16.1-2.1-10.1-2.2-3-1.2-18.3-9.5" fill="none" stroke="#000" stroke-width="2.8" stroke-linejoin="round" stroke-linecap="round"/>
<path d="M470.2 1899.6l4.8 7.2 4 8 8.2 9.3 18 17.1 8.1 6.9 14.4 10.4 13.1 7.9 42.2 22.7 17.7 6.5 30.4 10.1 12.9 3.8 23.9 5.5 65.4 13.6 32.7 7.4 30.5 7.9 60.9 16.9 30.6 7.2 32 5.6 64.2 8.8 25.8 4.1 16.4 3.5 123.6 29.4 30 5.6 170 28.8 52.8 12.9 97.2 19.3 54.6 11.4 33.8 6.4 11.6 2.8 14.8 4.4 85.2 29 17.7 6.6 82.3 33.2 59.5 26.3 4.6 2.7 35.9 27.9 55.3 41.5-8.1-81.9-2-14.7-2.4-12.8-2.8-10.4-3.3-7.5-15.5-23.5-5.1-6.8-27.1-28.6-8-7.5-41.2-28-44.8-24.5-21-10.4-70.2-23.6-81.2-23.1-15.4-4.1-18.8-3.9-46.8-6.9-141.6-22.3-107.9-7.9-122.6-11.5-32.9-4-80.6-11.8-183.2-32.7-238.9-37.4-111.9-16.7-24.1-3.1-9.4-2.8-18.3-10.2" fill="none" stroke="#000" stroke-width="2.8" stroke-linejoin="round" stroke-linecap="round"/>
<path d="M470.2 1902.5l10.1 14.3 9 10.2 19.9 19.2 8.4 7 10.1 7 13.1 7.7 42.2 22.2 12.7 4.7 48.3 15.5 38.8 8.7 50.5 10.3 32.7 7.2 15.3 3.8 76.1 21.1 30.6 7.1 32 5.4 64.2 7.9 25.8 3.9 11.5 2.3 102.7 24.4 25.8 5.7 19.5 3.6 175.3 28 11 2.2 37.4 9.4 12 2.6 149.4 28.8 33.8 6.1 11.6 2.7 14.8 4.2 93.3 30.8 91.9 35.4 59.5 25 4.6 2.7 39.3 30.2 51.9 38.2-8-85.9-1.9-15.2-2.4-13.2-3-10.4-3.3-7-10.7-14.1-6.4-9.5-3.5-4.1-33.1-31.1-39.1-24.7-7.4-4.2-51.5-25.7-11-4.9-8.6-3.1-57.3-18.2-93.3-25.7-14.8-3.5-17.2-3.1-22.4-3.1-155.2-24.4-8.5-1-120.8-7.5-85.2-6.7-47.6-4.9-81-11.6-17.2-2.6-124.8-22.9-47.3-8.1-228.8-35-122-17.6-24.1-2.9-9.4-2.8-18.3-10.8" fill="none" stroke="#000" stroke-width="2.8" stroke-linejoin="round" stroke-linecap="round"/>
<path d="M470.2 1905l17 20.3 14.2 14.8 11.9 11.1 8.7 6.8 5.7 3.7 13.1 7.5 42.2 21.8 12.7 4.6 48.3 15.4 23.9 5.5 65.4 13.3 32.7 7.2 15.3 3.8 76.1 21.2 30.6 7 32 5.1 64.2 7.3 25.8 3.6 16.4 3.4 97.8 23 25.8 5.6 19.5 3.4 175.3 26.6 11 2.2 47 11.4 151.8 28 33.8 5.8 11.6 2.6 14.8 4.1 89 28.2 93.9 34.8 59.5 23.8 6.9 3.7 35.9 27.4 55.3 40-3.3-35-2.8-36.9-3.7-33.2-2.4-13.4-3.1-10.5-1.6-3.5-3.5-5.5-7.3-8.1-8-11-3.5-3.8-29.4-25.2-5.7-4.2-38.9-22.5-5.6-2.8-55.2-25.5-11.5-4.6-8.9-2.8-63.8-19.3-82.3-21.8-26.4-5.6-33.8-4.8-151.8-23.7-143.7-7.7-57.5-3.9-32.1-2.7-26.4-2.8-68.5-9.6-29.7-4.4-124.8-23.1-62.6-10.4-217.3-32.3-122.5-17.1-19.8-2.1-6.4-1.6-3.1-1.3-18.2-11.3" fill="none" stroke="#000" stroke-width="2.8" stroke-linejoin="round" stroke-linecap="round"/>
<path d="M470.2 1904.8l17 20.3 14.2 14.8 11.9 10.9 8.7 6.8 5.7 3.8 13.1 7.4 42.2 21.8 50.8 16.9 10.2 3 23.9 5.5 98.1 20.4 30.5 8 60.9 17 30.6 7 32 5.1 64.2 7.4 25.8 3.7 11.5 2.2 108.8 25.1 19.7 4.1 19.5 3.3 63.5 9.3 117 18.1 50 11.9 160.4 29.6 22.4 3.7 17.2 3.6 22.6 6.4 81.2 25.3 96.2 35.3 59.5 23.8 4.6 2.6 35.9 26.8 55.3 39.1-1.8-16.4-6-70.3-2-15.4-2.5-13.1-3-10.3-3.3-6.4-3.7-4.9-7-7.9-8-11-33.3-28.9-44.9-26.3-54.8-25.4-11-4.6-13.1-4.4-52.8-16.1-13.5-3.9-79.8-20.9-20.7-4.5-11.3-1.9-22.4-3-160.4-24.6-158.2-8.7-40.2-2.9-58.5-5.5-68.5-9.5-34.4-5.2-103.5-19-48.7-8.5-30.5-4.8-220.7-33-114.8-16.1-24.1-2.7-6.4-1.6-3-1.3-18.3-11" fill="none" stroke="#000" stroke-width="2.8" stroke-linejoin="round" stroke-linecap="round"/>
<path d="M470.2 1904.6l17 20.3 14.2 14.7 7.7 7.3 8.5 7.1 10.1 7 13.1 7.4 42.2 21.7 8 3 49.1 15.8 27.8 6.6 65.4 13.2 32.7 7.2 30.5 7.9 60.9 16.9 30.6 7.1 32 5.2 64.2 7.5 25.8 3.7 11.5 2.1 96.7 22 31.8 6.7 194.8 29.5 16 3.3 44.4 10.4 149.4 27.5 28.2 4.8 24.4 5.4 96.6 29.2 93.9 34.1 61.8 24.4 4.6 2.6 35.9 26.2 55.3 38.3-7.9-84.3-2-14.9-2.4-12.8-3-10.1-3.3-6.4-10.7-12.9-8-11-35-30.4-43.2-25.1-65.8-30-70.2-21.7-81.2-21.3-22.6-5.3-17.2-3-22.4-3-155.2-23.7-12-1.2-142.7-7.8-70.5-5.3-49.7-5.4-80.3-11.3-129.9-23.2-62.6-10.3-213.5-32.2-122-17.2-24.1-2.8-6.4-1.5-3-1.3-18.3-10.7" fill="none" stroke="#000" stroke-width="2.8" stroke-linejoin="round" stroke-linecap="round"/>
<path d="M470.2 1904.4l19.1 22.6 12.1 12.3 7.7 7.3 8.5 7.1 10.1 6.9 13.1 7.4 25.6 12.8 16.6 8.9 12.7 4.5 44.4 14.2 27.8 6.6 65.4 13.2 32.7 7.1 30.5 7.9 60.9 16.9 30.6 7.1 32 5.2 64.2 7.7 25.8 3.6 16.4 3.2 97.8 21.9 25.8 5.2 30 4.7 61.8 8.7 97.4 14.9 21.6 4.2 42 9.8 185.6 33.8 18.8 4.3 89.9 26.4 97.8 34.9 64.6 25.2 4.6 2.6 39.3 27.9 51.9 35.1-7.9-81.7-2-14.5-2.4-12.5-3-9.9-3.3-6.4-10.7-13-8-11.1-35-30.5-46.5-26.8-62.5-28.3-13.1-4.4-57.1-17.3-81.2-21.1-22.6-5.2-17.2-3-28.2-3.8-149.4-22.6-12-1.2-142.7-8.1-59.8-4.4-54.1-5.5-86.6-11.9-129.9-23-77.8-12.6-205.5-31.1-114.8-16.2-24.1-2.8-9.4-2.8-18.3-10.4" fill="none" stroke="#000" stroke-width="2.8" stroke-linejoin="round" stroke-linecap="round"/>
<path d="M470.2 1904.2l19.1 22.6 12.1 12.3 11.9 10.8 8.7 6.7 5.7 3.7 13.1 7.3 42.2 21.6 8 3 49.1 15.7 27.8 6.6 65.4 13.1 32.7 7.1 30.5 7.9 60.9 16.9 30.6 7 32 5.3 77.9 9.6 12.1 1.9 16.4 3.1 103.9 22.8 19.7 3.8 100.5 14.5 99.5 15.4 50 11.4 154.6 28.5 28.2 4.8 24.4 5.3 85.2 24.4 15.7 5.1 89.6 31.9 61.8 23.9 4.6 2.5 31.4 22 59.8 39.6-8-79.1-2-14.1-2.4-12.2-2.9-9.6-3.3-6.5-10.7-13.1-8-11.2-35-30.7-46.5-26.8-62.5-28.2-13.1-4.4-57.1-17.3-81.2-20.9-28.5-6.3-194.1-28.6-149.5-8.9-70.5-5.4-43.4-4.5-80.6-10.9-152.3-26.3-46.2-7.5-213.5-32.6-122-17.3-24.1-2.9-3.3-.6-6.1-2.1-18.3-10.1" fill="none" stroke="#000" stroke-width="2.8" stroke-linejoin="round" stroke-linecap="round"/>
<path d="M470.2 1904l17 20.2 14.2 14.6 7.7 7.2 8.5 7 10.1 6.9 13.1 7.4 25.6 12.7 16.6 8.8 12.7 4.5 19.9 6 24.5 8.1 14.6 3.7 78.6 16 32.7 7.1 30.5 7.8 60.9 16.9 30.6 7 32 5.4 64.2 7.9 31.8 4.7 108.2 23.2 25.8 4.9 30 4.5 53 7.1 111.8 17.1 11 2.1 47 10.6 185.6 33.8 18.8 4.2 92.8 26.2 97.7 34.2 59.5 22.8 6.9 3.4 33.9 23.1 57.3 37.1-8.1-76.7-1.9-13.7-2.4-11.8-2.9-9.4-3.3-6.5-10.7-13.2-6.4-9.3-3.5-3.9-33.1-28.9-43.2-25.2-54.9-25.2-10.9-4.6-13.1-4.4-57.1-17.3-81.2-20.7-28.5-6.2-191.3-28-161-10-61.8-4.9-43.4-4.5-80.6-10.8-34.6-5.6-101.3-17.6-62.6-10.2-217.3-33.4-122.5-17.3-19.8-2.4-6.4-1.5-3-1.2-18.3-9.8" fill="none" stroke="#000" stroke-width="2.8" stroke-linejoin="round" stroke-linecap="round"/>
<path d="M470.2 1903.8l17 20.2 14.2 14.5 11.9 10.7 8.7 6.7 5.7 3.6 13.1 7.4 42.2 21.4 8 3 49.1 15.6 27.8 6.5 65.4 13.1 32.7 7.1 30.5 7.9 60.9 16.8 30.6 7 32 5.4 77.9 9.9 18.1 2.9 102.2 21.5 31.8 6 83 11.4 106.2 16.1 16.6 3 47 10.5 180 32.7 24.4 5.2 77.1 21 23.8 7.3 91.9 32 59.1 22.5 5 2.6 35.9 23.8 55.3 34.9-8.1-74.1-2-13.3-2.3-11.5-2.9-9.2-3.3-6.5-10.7-13.3-6.4-9.3-3.5-3.9-33.1-29.2-43.2-25.2-51.3-23.5-14.5-6.2-13.1-4.4-57.1-17.3-11.4-3.2-69.8-17.3-22.6-5.1-11.6-2-28-3.7-155.2-22.7-12-1.2-142.7-8.8-59.8-4.6-54.1-5.4-80.6-10.7-20.4-3.1-147.6-25.1-205.1-31.9-54.3-8.2-110.9-15.7-19.7-2.4-6.5-1.5-3-1.2-18.3-9.5" fill="none" stroke="#000" stroke-width="2.8" stroke-linejoin="round" stroke-linecap="round"/>
<path d="M470.2 1903.6l17 20.2 14.2 14.5 11.9 10.6 8.7 6.6 5.7 3.7 13.1 7.3 42.2 21.4 12.7 4.5 44.4 14 27.8 6.5 98.1 20.1 15.3 3.8 76.1 20.8 30.6 7.1 32 5.4 90 11.9 25.6 4.8 88.6 18.6 25.8 4.6 83 11.1 111.8 17.1 55.2 11.8 188.4 34.3 18.8 4.1 77.1 20.5 19.5 5.8 93.9 32.2 61.4 23.1 5 2.6 33.9 21.9 57.3 35.4-8.2-71.7-4.3-24-2.8-9-3.3-6.5-10.7-13.4-6.4-9.4-3.5-3.9-33.1-29.3-43.2-25.3-65.8-29.7-74-22.7-15.7-4.2-69.5-16.9-20.7-4.2-188.9-27-12-1.2-151.4-9.7-51.1-4-47.6-4.7-98.2-12.9-156.9-26.2-233.2-36.5-156.8-22.1-3.4-.6-6.1-2-18.3-9.2" fill="none" stroke="#000" stroke-width="2.8" stroke-linejoin="round" stroke-linecap="round"/>
<path d="M470.2 1903.4l19.1 22.5 12.1 12.1 11.9 10.6 8.7 6.6 5.7 3.6 13.1 7.3 42.2 21.3 8 3 49.1 15.5 27.8 6.5 65.4 13 32.7 7.1 15.3 3.7 76.1 20.8 30.6 7.1 15.6 2.9 33 4.9 47.5 6 31.9 4.7 40 7.8 44 9.4 50 9.2 83 10.9 111.8 17 55.2 11.7 188.4 34.3 26.4 5.9 75.2 19.6 13.8 4.2 84.7 28.6 70.6 26.1 5 2.5 31.4 19.9 59.8 36-8.2-69.2-4.3-23.2-2.8-8.8-3.3-6.5-10.7-13.5-6.4-9.4-3.5-4-33.1-29.4-43.2-25.4-65.8-29.6-74-22.7-15.7-4.2-61.7-14.8-22.6-5-194.8-27.7-15.7-1.5-156.5-10.3-53-4.4-36.9-3.7-98.2-12.8-187.4-30.7-202.7-31.8-156.8-22.2-9.5-2.6-18.3-8.9" fill="none" stroke="#000" stroke-width="2.8" stroke-linejoin="round" stroke-linecap="round"/>
<path d="M470.2 1903.1l17 20.2 14.2 14.4 11.9 10.5 8.7 6.6 5.7 3.7 13.1 7.2 42.2 21.3 8 2.9 53 16.6 23.9 5.4 65.4 13 32.7 7 30.5 7.8 60.9 16.7 30.6 7.1 32 5.5 77.9 10.4 23.5 3.7 90.8 18.3 37.8 6.6 83 10.6 111.8 17.1 13.5 2.5 38.4 8.3 186 33.9 17.3 3.4 14.8 3.5 63.2 15.9 25.8 7.3 93.9 31.5 61.4 22.7 5 2.4 35.9 22 55.3 32.4-8.3-66.6-4.3-22.5-2.7-8.6-3.3-6.5-10.7-13.6-6.4-9.5-3.5-4-33.1-29.6-43.2-25.4-65.8-29.5-74-22.7-22-5.7-55.4-13.1-22.6-4.9-194.8-27.4-15.7-1.5-139-9.3-81-6.7-26.4-2.7-93.1-11.9-177.2-28.7-228.8-36.1-146-20.6-9.5-2.6-18.3-8.7" fill="none" stroke="#000" stroke-width="2.8" stroke-linejoin="round" stroke-linecap="round"/>
<path d="M470.2 1902.9l17 20.2 14.2 14.4 7.7 7 8.5 6.8 10.1 6.8 13.1 7.2 30.2 14.9 12 6.4 8 2.9 49.1 15.4 27.8 6.4 65.4 13 32.7 7.1 30.5 7.7 60.9 16.7 15.3 3.7 30.9 6.3 33 5 61.3 8.1 28.5 4.6 29.6 5.6 50.2 10.4 43.8 7.5 91.8 11.6 103 15.8 51.9 10.7 191.6 34.9 26.5 5.7 69.5 17.1 23.8 7 76.8 25.3 74.2 26.9 5 2.4 31.4 18.8 59.8 34.2-8.4-64.2-1.9-11.6-2.3-10.1-2.7-8.4-5.1-9.2-8.9-11-8-11.6-31.3-28.7-5.7-4.3-41.2-24.1-62.2-28.1-12.2-4.4-75.4-22.5-75.2-17.6-20.7-4.1-191.3-26.4-169.8-12-63.5-5.4-26.4-2.7-98.2-12.5-390.1-62.3-153.2-21.8-10.1-2-21.3-9.5" fill="none" stroke="#000" stroke-width="2.8" stroke-linejoin="round" stroke-linecap="round"/>
<path d="M470.2 1902.7l17 20.2 14.2 14.3 11.9 10.4 8.7 6.5 5.7 3.6 13.1 7.2 42.2 21.2 8 2.9 49.1 15.4 27.8 6.4 65.4 13 32.7 7 30.5 7.7 60.9 16.7 15.3 3.7 30.9 6.3 33 5.1 61.3 8.2 28.5 4.5 23.6 4.3 50 10.3 50 8.4 83 10.1 117 17.9 50 10.3 182.7 33.2 39.9 8.5 64.6 15.5 20.9 6.2 80.4 26.2 70.6 25.4 5 2.3 35.9 20.9 55.3 30.7-8.4-61.7-4.2-20.9-4.3-11.6-3.5-5.8-8.9-11.1-8-11.6-33.3-30.7-3.7-2.6-41.2-24.1-58.5-26.5-20.4-7.3-70.9-21.1-75.2-17.4-20.7-4-191.3-26.1-161-11.6-61.8-5.2-43.4-4.4-91.7-11.6-91.8-14.3-309.1-49.5-142.4-20.2-7-1.3-6.1-1.8-18.3-8.1" fill="none" stroke="#000" stroke-width="2.8" stroke-linejoin="round" stroke-linecap="round"/>
<path d="M470.2 1902.5l17 20.2 14.2 14.2 11.9 10.4 8.7 6.5 5.7 3.6 13.1 7.2 42.2 21.1 12.7 4.4 44.4 13.8 27.8 6.4 65.4 12.9 32.7 7 15.3 3.7 76.1 20.6 15.3 3.8 30.9 6.3 33 5.2 84.8 11.9 28.6 5 50 10.2 43.1 7.1 98.7 12.1 111.2 17.2 43.7 8.9 203.3 37.2 81.2 18.6 26.9 7.6 69.5 22.2 81.5 28.8 5 2.3 31.4 17.8 59.8 32.3-6.7-47.6-3.7-22.3-2.3-9.5-4.2-11.3-3.5-5.8-8.9-11.2-8-11.7-33.3-30.8-3.7-2.6-41.2-24.2-58.5-26.4-20.4-7.3-70.9-21.1-75.2-17.2-20.7-3.9-191.3-25.8-161-11.9-61.8-5.2-43.4-4.4-101-12.8-178.1-27.9-217.3-35-138.6-19.8-7-1.2-6.1-1.8-18.3-7.8" fill="none" stroke="#000" stroke-width="2.8" stroke-linejoin="round" stroke-linecap="round"/>
<path d="M470.2 1902.3l17 20.1 7.3 7.7 18.8 16.9 14.4 10 13.1 7.2 25.6 12.4 16.6 8.6 12.7 4.4 44.4 13.8 27.8 6.4 82.2 16.3 15.9 3.6 30.5 7.7 60.9 16.5 30.6 7.1 15.6 3 33 5.2 61.3 8.5 33.2 5.1 24.9 4.4 37.7 7.8 42.9 7.1 22.8 3.1 73.6 8.4 111.8 17 51.9 10.2 197.4 36 90.2 19.9 23.8 6.8 69.5 21.9 81.5 28.5 5 2.3 31.4 17.2 59.8 31.5-6.8-45.6-3.7-21.4-2.2-9.2-4.2-11.1-3.5-5.8-8.9-11.3-8-11.8-33.3-30.9-3.7-2.7-41.2-24.2-58.5-26.3-15.9-5.9-73-21.9-69.8-15.9-28.5-5.6-191.3-25.4-152.3-11.5-81-6.9-45.3-4.9-84-10.5-167.5-25.8-217.9-35.4-153.2-22.1-10.1-2-3-1-18.3-7.5" fill="none" stroke="#000" stroke-width="2.8" stroke-linejoin="round" stroke-linecap="round"/>
<path d="M470.2 1902.1l17 20.1 14.2 14.2 11.9 10.2 14.4 10 13.1 7.2 25.6 12.4 16.6 8.6 8 2.9 49.1 15.2 27.8 6.4 65.4 12.8 32.7 7 30.5 7.7 60.9 16.5 30.6 7.1 15.6 3 33 5.3 99 14.3 20.4 3.6 37.7 7.7 30.5 5 35.2 4.8 63.5 7 18.9 2.5 108.2 16.6 46.7 9.2 46.8 8.2 156.5 28.9 84.3 18.2 19.5 5.4 73.8 22.9 81.5 28.3 7.1 3.3 29.3 15.6 59.8 30.5-8.6-54.2-4.2-18.7-4.1-10.8-3.5-5.9-7.3-9.2-9.6-14-33.3-31.2-3.7-2.6-41.2-24.3-62.2-27.8-16.7-5.7-68.5-20.5-69.8-15.7-28.5-5.5-191.3-25.1-143.7-11.1-79.1-6.7-55.8-5.8-93.1-11.6-158.4-24.2-232.5-37.9-138.6-19.9-10.1-2-21.3-8.2" fill="none" stroke="#000" stroke-width="2.8" stroke-linejoin="round" stroke-linecap="round"/>
<path d="M470.2 1901.9l17 20.1 7.3 7.6 18.8 16.7 14.4 10 13.1 7.1 42.2 20.9 12.7 4.4 44.4 13.7 14.6 3.6 111.3 22.5 30.5 7.7 60.9 16.5 30.6 7.1 15.6 3 33 5.4 103.6 15 53.5 10.4 30.5 4.9 35.2 4.6 73.6 8 111.8 17 48.4 9.2 30.3 5.2 170.6 31.4 87.1 18.1 22.6 6 66 20.1 27.9 9.2 61.4 21.3 4.9 2.1 34 17.5 57.3 28.3-6.9-41.6-3.7-19.6-2.2-8.4-4.1-10.6-3.5-5.9-8.9-11.5-8-11.9-33.3-31.3-3.7-2.6-38.9-23.1-5.6-2.9-55.2-24.6-15.9-5.8-73-21.9-69.8-15.5-22.6-4.5-194.8-25.5-172.2-13.7-63.5-5.6-45.3-4.8-74.2-8.9-28.6-3.9-133.4-20.1-247.8-40.5-138.6-20.1-7-1.2-6.1-1.7-18.3-6.9" fill="none" stroke="#000" stroke-width="2.8" stroke-linejoin="round" stroke-linecap="round"/>
<path d="M470.2 1901.7l17 20.1 7.3 7.5 18.8 16.7 14.4 9.9 13.1 7.1 42.2 20.9 57.1 18 27.8 6.3 65.4 12.8 32.7 7 30.5 7.6 60.9 16.5 15.3 3.7 30.9 6.4 49.5 7.9 87.1 12.5 15.8 2.7 37.7 7.6 24.5 3.9 41.2 5.2 73.6 7.9 111.8 16.9 232.4 42.5 107.1 21.3 19.5 5.3 73.8 22.3 81.5 27.7 96.2 46.5-8.7-49.3-4.2-17.2-4-10.3-3.5-5.9-7.3-9.4-9.6-14.2-33.3-31.4-3.7-2.7-41.2-24.3-58.5-26.2-15.9-5.8-73-21.9-69.8-15.3-28.5-5.4-191.3-24.5-152.3-12.2-81-7.1-94.9-10.6-53.2-6.8-101.4-14.9-62.5-9.8-213.5-35.3-142.4-20.7-13.1-2.8-18.3-6.7" fill="none" stroke="#000" stroke-width="2.8" stroke-linejoin="round" stroke-linecap="round"/>
<path d="M470.2 1901.5l19.1 22.4 12.1 11.7 11.9 10.1 8.7 6.3 5.7 3.5 13.1 7.1 42.2 20.8 12.7 4.4 24.3 7.1 20.1 6.5 27.8 6.3 65.4 12.8 32.7 6.9 30.5 7.6 60.9 16.4 15.3 3.8 30.9 6.4 49.5 8 96.9 14 43.7 8.6 24.5 3.8 41.2 5 73.6 7.6 117 17.8 238.3 43.5 96 18.7 19.5 5.2 73.8 22 81.5 27.4 96.2 45-10.7-55.4-2.2-7.8-4-10.1-3.6-5.9-7.2-9.5-9.6-14.2-33.3-31.7-3.7-2.6-41.2-24.4-58.5-26.1-15.9-5.9-75.4-22.5-67.4-14.4-28.5-5.3-191.3-24.2-161-13.2-82.4-7.4-97.3-11-40.7-5.2-84.8-12.2-63.9-9.8-232.5-38.5-138.6-20.2-13.1-2.8-18.3-6.4" fill="none" stroke="#000" stroke-width="2.8" stroke-linejoin="round" stroke-linecap="round"/>
<path d="M470.2 1901.3l17 20 7.3 7.6 10.7 9.8 8.1 6.6 14.4 9.9 13.1 7 42.2 20.8 12.7 4.3 44.4 13.6 27.8 6.3 65.4 12.7 32.7 6.9 15.3 3.7 76.1 20.3 30.6 7.1 15.6 3.1 49.5 8.1 96.9 13.9 43.7 8.5 12.5 2 43.8 5.4 83 8.5 111.8 16.9 88 15.5 254.4 47.4 90.4 26.2 84 28.1 93.7 42.6-10.8-52.6-2.1-7.4-4-9.8-3.6-5.9-7.2-9.7-9.6-14.3-35-33.2-43.2-25.7-62.2-27.6-12.2-4.3-75.4-22.5-75.2-15.8-20.7-3.6-191.3-23.9-161-13.5-72.3-6.5-39.2-4-108.9-12.9-133.4-19.3-233.2-38.8-153.2-22.7-13.1-2.7-18.3-6.1" fill="none" stroke="#000" stroke-width="2.8" stroke-linejoin="round" stroke-linecap="round"/>
<path d="M470.2 1899.9l17 19.9 10.6 10.5 15.5 12.8 8.7 6.1 5.7 3.4 13.1 6.9 42.2 20.4 12.7 4.3 48.3 14.2 23.9 5.2 65.4 12.5 32.7 6.8 30.5 7.5 60.9 16.1 30.6 7.2 65.1 12 56.9 8.7 40 4.3 43.7 7.9 12.5 1.7 106.2 8.4 38.1 4.3 162.2 25.2 187.3 34.4 84.3 11.9 85.5 22 22 6.6 67.3 20.9 96.2 33.2-11.2-32.8-4.1-9.5-3.4-6.3-10.6-15.7-4.8-8-5.1-6.6-33.1-32.3-43.2-26-58.5-25.6-11.5-4.4-8.9-2.8-73.7-21.8-72.4-13.5-32.1-4.7-182.7-20.6-256.9-24.4-74.8-7.7-58.3-6.4-90-11.4-62.5-9.5-213.5-37.2-130.5-19.5-15.5-2.7-27.8-5.9" fill="none" stroke="#000" stroke-width="2.8" stroke-linejoin="round" stroke-linecap="round"/>
<path d="M470.2 1899.5l17 20 10.6 10.4 15.5 12.7 14.4 9.4 13.1 6.9 42.2 20.3 8 2.8 53 15.6 23.9 5.1 65.4 12.5 32.7 6.8 30.5 7.4 45.7 12.2 30.5 7.6 47.3 9.8 33.1 5.9 62.9 9.6 34 3.2 50 8.6 18.2 1.8 94.2 6.6 38.1 4.2 162.2 24.9 187.3 34.3 78 10.1 12 2 75.4 19.2 23.1 6.6 77.7 23.8 89.1 28.5-9.4-23.6-5.9-12.9-18.8-30.3-5.1-6.7-29.4-29.2-5.7-4.7-41.2-24.7-58.5-25.5-15.9-5.8-78.2-23.2-72.4-13.1-26.5-3.9-178.4-19.8-266.8-25.9-121.7-12.4-101.4-12.4-32-4.5-30.5-4.9-220.7-38.7-109-16.1-29.8-5.1-27.8-5.4" fill="none" stroke="#000" stroke-width="2.8" stroke-linejoin="round" stroke-linecap="round"/>
<path d="M1233 2015l-117.6-22.3-134.6-22-61.7-10.7-46.2-8.6-324-64.8-26.9-5.6-51.8-12.2" fill="none" stroke="#000" stroke-width="5" stroke-linejoin="round" stroke-linecap="round"/>
<path d="M470.2 1899.3l18.3 21.4 16.9 15.5 16.6 12 21.1 12.1 23.9 11.7 16 6.7 14.6 5.4 21.8 6.6 37.8 9.4 77.5 14.8 31.5 6.5 30.5 7.4 60.9 16.1 30.6 7.1 48.6 9.5 32.5 5.6 41 6.2 39.7 3.7 35.7 6.4 14.3 2.1 28.3 2.5 50.5 2.9 36.2 2.6 18 1.8 43.8 5.5 69.5 10.5 69.9 11.5 47.5 8.5 116.5 22 32.2 5 53.8 5.9 21 3.2 21.9 4.6 32.7 8.2 54.4 15.2 159.1 48.3" fill="none" stroke="#00ff00" stroke-width="6.5" stroke-linejoin="round" stroke-linecap="round"/>
<path d="M1955.3 2243.7l-13.1-28.6-12.1-21.7-8.7-13-10.9-13.4-13-13.4-14.2-12.3-10.1-7.3-15.9-9.7-24.9-13-15.5-7.3-25-10.6-27.7-10.2-32.4-10.6-22.4-6.4-22.2-5.6-20.9-4.6-31.2-5.4-35.1-5.2-41.2-5.3-212.6-22.2-302-29.4-63.1-7-62-7.6-30.9-4.4-45.8-7.5-183-32.7-30.9-5-106.5-15.8-51.8-9.2" fill="none" stroke="#00ff00" stroke-width="6.5" stroke-linejoin="round" stroke-linecap="round"/>
<line x1="927.9" y1="2016.5" x2="848.4" y2="2008.1" stroke="#7a7a7a" stroke-width="4" stroke-linecap="round"/><polygon points="799.7,2003.0 876.7,1988.0 852.4,2008.6 871.9,2033.7" fill="#7a7a7a"/>
<line x1="662.4" y1="2061.0" x2="735.1" y2="2086.0" stroke="#7a7a7a" stroke-width="4" stroke-linecap="round"/><polygon points="781.4,2102.0 703.0,2099.3 731.3,2084.7 718.0,2055.8" fill="#7a7a7a"/>
<line x1="965.4" y1="2432.5" x2="971.5" y2="2483.3" stroke="#7a7a7a" stroke-width="4" stroke-linecap="round"/><polygon points="977.4,2531.9 945.6,2460.2 971.0,2479.3 991.2,2454.7" fill="#7a7a7a"/>
<line x1="1868.5" y1="2508.6" x2="1841.9" y2="2451.1" stroke="#7a7a7a" stroke-width="4" stroke-linecap="round"/><polygon points="1821.4,2406.6 1873.7,2465.0 1843.6,2454.7 1832.0,2484.3" fill="#7a7a7a"/>
<line x1="1497.0" y1="2702.0" x2="1569.6" y2="2671.5" stroke="#7a7a7a" stroke-width="4" stroke-linecap="round"/><polygon points="1614.8,2652.5 1554.6,2702.8 1565.9,2673.0 1536.7,2660.4" fill="#7a7a7a"/>
<line x1="2036.5" y1="2699.6" x2="2036.5" y2="2204.8" stroke="#000" stroke-width="4"/><polygon points="2036.5,2159.8 2061.0,2206.8 2012.0,2206.8" fill="#000"/>
<line x1="445.9" y1="2594.5" x2="582.3" y2="2594.5" stroke="#ff0000" stroke-width="4.5"/>
<line x1="445.9" y1="2670.6" x2="582.3" y2="2670.6" stroke="#222" stroke-width="4.5"/>
<line x1="445.9" y1="2744.7" x2="586.8" y2="2744.7" stroke="#00ff00" stroke-width="9"/>
<text x="615.5" y="2616.7" font-family="'Liberation Sans',Arial,sans-serif" font-size="58" stroke="#000" stroke-width="0.5">cycle 1</text>
<text x="615.5" y="2689.2" font-family="'Liberation Sans',Arial,sans-serif" font-size="58" stroke="#000" stroke-width="0.5">cycles 2-29</text>
<text x="615.5" y="2762.9" font-family="'Liberation Sans',Arial,sans-serif" font-size="58" stroke="#000" stroke-width="0.5">cycle 30</text>
<path d="M489.2 3811.2l48.5 21.9 16.9 6.9 19 7 29.6 10 29.8 9.2 60.6 15.7 17.9 5.1 11.2 3.8 30.7 12 58.2 20 18.4 7.2 13.1 6.1 23.8 12.6 13.1 6.3 19 7.5 41.4 14.9 16.6 7.6 7.4 4.7 18.6 15.3 48.7 32.2 20.7 14.6 9.1 7.2 14.3 12.6 13.1 12.7 12.5 13.2 19.4 22 13.7 16.6 13.5 17.4 12.9 17.7 17.3 26.2 30.5 52.6 34.9 55.8 19.3 34 10.8 17.6 58.5 84.4 18.7 25.2 15.1 17.8 9.3 9.7 6.6 5.8 7.1 5.2 11.6 7.2 12.1 5.1 4.1 1 7.9 .9 12-.8 11.5-2.7 9.9-4.6 26.1-17.9 26.7-20.3 11.1-9.5 34.9-34 13.1-10.6 14.2-10.4 22-14.6 21.2-12.6 33-15.8 12.7-6.7 5.8-3.6 26.9-19.4 6-3.5 6.6-3 9.1-3.3 9.7-2.8 21-4.4 11-1.8 62.5-8.3 45.5-4.2 27.7-1 18.5 .8 11.8 1.9 26.8 6.1-5.4-6.2-15.1-19.7-5.2-6.3-5.8-6-6.5-5.3-7.3-4.7-11.3-4.8-12.8-3.4-14-2.4-60.7-6.5-14.5-2.7-14.2-3.4-28.4-7.6-70.8-20.2-99.1-24.6-73-19.4-79.6-22.7-22.7-7.3-15.6-6.5-9.3-4.9-18.6-11.7-28.6-19.5-20.5-11.5-12.1-5.3-12.6-4.8-66.7-21.6-13.1-4.9-26.9-11.2-40.5-18.3-54.9-26.1-32.2-16.2-20.8-12.1-12.2-8.6-6.5-5.3-15.4-13.7-10.8-10.6-15.7-17.5-11.2-14.9-11.1-16.4-25.3-41.1-15-26.8-18.7-30.5-5.8-10.7-7.7-17.8-27.1-70.4-5.7-12.6-8.8-16.6-27.7-44.2-15.3-22.3-8.4-11.2-4.7-5.4-6.2-5.3-4.7-3-4.8-2.1-5.7-1-3 0-2.9 .3-5 1.8-6.3 4.7-12.6 12.6-13 15.5-8.6 12.3-13.9 26.3-8.7 15.1-8.7 13.8-6.5 8.8-10.8 12.8-7.7 7.9-8.5 8-12 10.1-16.1 11.9-15.5 10.4-18.2 11.4-9.9 5.3-19.2 8.3-38 14.6-31.8 13.7" fill="none" stroke="#ff0000" stroke-width="2.6" stroke-linejoin="round" stroke-linecap="round"/>
<path d="M488.3 3760l19 17.5 12.2 9.6 8.8 5.5 9.1 4.7 23.7 10.3 24.5 8.4 9.9 2.8 20.2 4.7 20.2 4.3 35.8 5.2 20.2 4.1 14.8 4.7 9.5 4.1 18.1 10 35 22 13.7 7.3 14.3 5.8 24.7 7.8 19.3 7.4 18.6 9 59.8 30.7 23.2 11.4 28.5 12.1 14.1 6.5 9 5 8.7 5.7 16.5 12.4 20.3 16 60.6 65 25.4 29.5 68.6 87.3 10.7 12.9 11.4 12 20.9 18.4 7.7 8 9.8 13.4 11.1 19.3 23.3 37.8 30.1 46.7 31.4 45.9 29.5 40.3 13.9 17.4 15.5 15.9 12.8 10.6 9.5 5.7 5.1 2.2 26.7 7.7 22.7-3.7 4.5-1 8.6-3.2 11.5-7.6 23.8-21.6 22.3-16.3 42.3-27.7 54.5-34.1 20.1-11.1 25-11.7 25.5-10.5 26.1-8.8 13.4-3.2 13.6-2.4 36.5-4.3 23-1.9 32.1-1.6 23-.5 73.5 1.2-10.8-12.9-5.7-6.1-13.1-10.4-14.2-9-29.4-16.1-30-15.1-30.6-13.8-15.5-6.4-23.5-8.9-31.9-10.5-176.9-52.6-63.7-21.2-39.5-14.1-31.2-12.2-46.2-20.2-15.6-5.9-39.8-13.4-23.7-8.5-23.3-9.5-84.6-36.7-94-36-31.2-12.4-46.6-19.1-18.5-11.6-10.6-7.7-9.9-8.6-9.5-9.1-12-12.8-8.5-10-10.6-13.9-14.6-21.8-25.3-40.9-26.1-45.6-8.2-15.4-8.8-20-24.5-65.6-6.6-16.2-5.8-11.8-19.6-34.1-16.3-31-6.9-11.2-2.6-3.5-6-6.3-17.5-13.2-3.7-2.3-4-1.7-4.2-1.1-8.7-1.1-13 7.1-6.4 6-5.4 7.1-11.2 17.4-21.8 35.3-13.4 19.5-10.6 14.3-11.6 13.5-10.4 10.5-8.7 7.9-16.3 12.9-14.7 10-17.7 10.8-13.1 6.8-16.3 7-22.3 8-14.2 4.3-14.4 3.4-26.2 4.7" fill="none" stroke="#000" stroke-width="2.8" stroke-linejoin="round" stroke-linecap="round"/>
<path d="M488.3 3758.1l23.1 20.9 8.3 6.3 8.7 5.7 18.4 9.6 9.5 4.2 19.3 7.5 24.8 7.6 35.3 8.6 45.8 8.7 15 4.1 9.8 3.5 9.4 4.2 9.2 4.9 39.5 25 8.9 5.4 9.2 4.8 14.3 6.2 29.4 10.2 14.4 6 46.6 23 46.8 22.2 14.3 6.3 33.7 13.4 9.4 4.4 17.8 10.2 33.9 22.9 60.6 57.9 19.7 19.8 15.2 16.4 37 42 10.9 12.8 21 26.5 11 13 11.8 12.1 21.2 18.6 7.9 8.1 7 8.8 3.1 4.7 14.5 24.2 21.2 33.4 34.3 51.7 32.7 46 27.3 36 14.2 17.5 15.9 16.1 8.5 7.3 4.6 3.3 9.7 5.8 5.2 2.2 27.2 7.5 21.7-3.3 8.6-2.1 4-1.6 7.7-4.2 3.5-2.5 23.5-19.2 18-12.5 33.3-21.5 67.3-41.8 23.4-12.4 19.9-9.2 24.5-10.1 20.8-7.2 17-4.3 17.3-3 21.7-3.1 34.9-3.7 43.8-2.6 70.3-.3-16.7-19.1-13.2-10.4-14.3-9-29.6-16.3-22.6-11.5-22.9-10.8-31.1-13.3-39.6-14.6-72.5-22.6-112.4-36.2-31.9-11-55.6-20.1-47.3-18.2-54.3-23.3-23.8-8.6-40.1-13.4-31.6-11.9-62.3-26.1-31.3-12.6-23.7-8.8-87.5-30.5-63.1-23.4-22.3-13.5-10.5-7.7-13.1-11.3-9.3-9-11.9-12.7-16.3-20.2-22.1-32.1-18.6-29.3-29.8-53.1-9.3-19.6-28.8-72.5-6.8-16-8.1-15.4-13.6-22.2-16.9-30.3-6.8-11.1-5.1-7-3-3.2-6.5-5.7-13.9-10.4-7.7-3.9-12.9-1.9-10.1 4.9-6.8 4.9-9 10.5-14.5 20.6-10.7 16.5-14.4 20.8-17.2 22.5-7.5 8.5-11.9 12-8.4 7.6-17.8 14-18.7 12.6-12.1 7.3-15 7.8-15.5 6.8-21.2 7.9-13.4 4.2-32.8 7.5" fill="none" stroke="#000" stroke-width="2.8" stroke-linejoin="round" stroke-linecap="round"/>
<path d="M488.3 3756.3l19.4 17.6 12.1 9.9 13.1 8.4 18.5 9.6 19.3 8.1 24.7 8.4 40.1 11 35.5 7.6 15.1 3.8 10 3.1 9.7 3.7 9.5 4.4 9.1 5 13.4 8.2 26.2 17.2 8.9 5.4 13.9 7.3 9.5 4.1 29.2 11 9.7 4.1 51.7 24.8 47.6 21.2 14.4 6 24.4 9 19.2 7.8 22.8 11.8 30.6 18.1 64 55.1 24.9 22.9 39.7 40 19.4 20.7 7.5 8.6 25.2 31.1 7.8 8.4 8.2 8 21.5 18.8 8.1 8.2 10.4 13.6 15 24.4 28.1 43.2 32.4 47.2 23.6 32.4 38.5 49.8 7.2 8.9 7.7 8.5 16.6 15.7 9.1 7 9.9 5.7 5.3 2.2 5.5 1.8 22.2 5.5 20.9-2.8 8.2-1.9 3.9-1.4 11-5.8 23.2-17.2 14-9.2 100.5-62.3 18.6-10.1 26.7-12.7 23.4-9.7 15.9-5.6 12.2-3.4 16.4-3.6 24.9-4.2 37.5-4.9 41.8-3.4 63.2-1.4-10.9-13-5.9-6.2-13.4-10.4-14.3-9.1-22.3-12.4-30.3-15.5-30.8-14.3-23.5-10-39.8-14.9-88.8-28.9-72.2-24.8-39.9-14.2-47.7-17.8-63.2-24.7-62.7-26.5-80.3-27.7-110.6-43.6-32-11.1-80.6-25.6-64.1-21.7-22.3-13-7.2-4.7-16.8-13.4-12.5-11.7-9-9.3-11.3-13-10.5-13.5-24.9-35.1-13.9-21.8-31.2-56.7-7.2-15.7-31.4-75.6-5.4-11.8-6.1-11.4-16.2-25.4-15.1-26.1-7.1-10.7-5.2-6.9-6.1-6.1-13.6-10.6-7.3-4.6-4-1.6-12.8-1.8-12.1 5.8-6.3 4.8-5.4 5.7-11.5 14.4-33 45.7-15.3 18.9-11.2 11.8-9.8 9.2-10.3 8.8-13 9.9-17.8 12.2-11.5 7.1-21.6 11-22.4 9.3-15.1 5.4-31 8.2" fill="none" stroke="#000" stroke-width="2.8" stroke-linejoin="round" stroke-linecap="round"/>
<path d="M488.3 3754.8l23.4 21 12.5 9.6 13.3 8.3 18.6 9.5 19.4 8.1 19.8 6.8 40.1 11.8 45.4 11.4 14.9 4.8 9.7 3.9 9.5 4.5 9.1 5.1 44.1 28.5 13.6 7.8 9.4 4.6 38.7 15.8 52.1 24.7 24 10.4 43.5 17.7 34.6 12.1 14.4 5.8 13.9 6.5 36.1 18.5 44.8 34.9 31.1 24.9 21.6 18.6 21 19.1 20.7 19.6 16.2 16.2 7.8 8.5 22 27 11.8 12.8 8.4 8 21.8 19.1 8.2 8.2 7.3 9 3.3 4.8 34.7 53.5 29.4 43.1 20.4 28.2 17.4 23.1 43.2 54.6 11.5 13.1 17 15.7 4.5 3.7 9.7 6.4 10.5 4.9 5.5 1.7 22.6 5.4 24.1-3.1 7.8-2.1 3.6-1.5 7-3.6 26.3-17.4 114.6-69.6 21.7-11.3 18.4-8.6 22.5-9.3 15.3-5.4 15.6-4.3 11.9-2.6 31.7-5.9 23.9-3.6 16-2 28.2-2.5 56.6-2.3-11-13.1-5.9-6.1-13.5-10.5-14.5-9.1-29.9-16.5-22.9-11.6-31-14.4-31.5-13.3-32.1-11.9-80.9-27.1-80.1-29.1-39.9-15-71.4-28.2-39.5-16-47.2-20.2-15.9-6.3-72.8-24.7-103.7-39.7-40.3-13.8-81.6-23.8-73-22.6-26-14.7-14-9.8-9.9-8.1-9.5-8.6-12-12.1-11.3-12.8-10.7-13.3-25.3-34.4-11.6-18.1-32.9-60.2-29.4-66.6-10-23.7-5.5-11.6-4.2-7.5-16.5-25-15.5-25.6-9.9-13.9-5.7-6.4-6.5-5.7-13.7-10.3-3.7-2.1-4-1.4-4.2-.8-8.6-.9-11.7 5.2-4.3 2.7-3.8 3.2-6.9 7.1-8.2 9.5-32.9 42.8-16.7 19.8-11 11.1-15.5 13.8-10.2 8.1-19 13.6-19.8 12.3-11.4 6-16.4 7.6-21.4 8.6-29.3 9" fill="none" stroke="#000" stroke-width="2.8" stroke-linejoin="round" stroke-linecap="round"/>
<path d="M488.3 3753.3l23.6 21.1 12.4 9.7 13.2 8.6 18.6 9.8 19.3 8.3 19.8 7.1 40 12.6 45.3 12.5 14.9 5.1 9.7 4.1 14 7.2 9 5.4 44.1 28.8 18.6 9.9 38.5 16.7 42.8 20.3 33.8 14.3 39.1 15.1 49.6 16.9 33 13.9 23.1 10.4 32.7 23.4 37.2 27 22.7 17.6 26.6 22 26 22.7 12.7 11.8 12.2 12.5 22.4 27.2 7.9 8.6 12.7 12.2 22.1 19.3 8.3 8.3 10.9 13.9 38.8 58.6 23.4 33.8 24.3 33.1 28.8 37 37 45.5 8 8.7 8.4 8.1 13.5 11.4 9.7 6.5 5.2 2.7 11.1 3.8 22.9 5.3 23.3-2.7 7.5-1.8 3.6-1.4 6.9-3.1 6.5-3.6 16.1-9.9 23.6-13.5 54-32.1 30-18.6 13.7-7.7 17.5-9 21.3-9.9 18.1-7.5 18.5-6.3 22.7-5.7 19-4.1 22.9-4.3 23-3.6 27-3 54.6-3.3-11.1-13.1-5.9-6.2-6.6-5.5-7-5-14.5-9.2-37.8-20.5-23.1-11.4-31.3-14.2-31.8-13.1-24.1-8.9-73.1-25-80.1-30.4-79.5-31.7-95.1-39.5-31.5-13.6-16-6.3-73.3-24.6-88.4-33-40.5-14-32.8-9.8-66-17.5-73.8-21-26.2-14.2-14.1-9.4-13.3-10.5-9.4-8.5-12.1-12.1-11.3-12.6-16.1-19.7-20.3-27.3-7.1-10.7-6.4-11-28.5-52.6-17.4-38.9-16.3-34.6-8.3-19.7-7.9-15.1-14.5-21-15.8-25.3-12.6-17.1-8.8-9.2-13.4-10.6-7.3-4.4-4-1.4-12.7-1.5-11.4 4.6-8 5.3-5.3 4.7-11.6 12.2-37.5 46-15.2 16.5-10.9 10.3-11.4 9.8-26 19.5-21 13.4-24.2 12.5-22.7 9.7-25.4 8.7" fill="none" stroke="#000" stroke-width="2.8" stroke-linejoin="round" stroke-linecap="round"/>
<path d="M488.3 3752.1l23.7 21.1 12.4 9.8 13.1 8.8 18.5 10.1 24.2 10.5 14.9 5.4 45 14.8 40.2 12 19.6 7.4 9.6 4.5 13.8 7.7 44.2 29.1 18.2 10.6 47.9 21.9 33.4 16 24.2 10.3 29.5 11.3 29.7 10.7 54.9 17.8 47.5 18.5 72.3 48.3 23.6 17.1 27.6 21.2 27 22 13.2 11.6 8.5 8.2 8 8.6 18.8 22.9 8.1 8.7 12.9 12.2 22.4 19.5 8.4 8.4 3.9 4.4 10.5 14.3 46.4 68.8 27.9 38.4 36.4 46.7 41.5 50.3 8 8.7 17.6 15.9 9.5 7.1 5.1 3.1 10.7 4.9 5.7 1.7 23.2 5.1 18.8-1.8 7.5-1.2 10.5-3.3 6.6-3 42.3-22.9 55.7-32.6 25.8-16 23.3-12.9 13.5-6.8 24.2-10.9 10.6-4.3 14.3-5 10.8-3.2 21.9-5.5 25.6-5.7 18.4-3.5 22.3-3.5 15-1.7 48.9-3.7-11.2-13.2-5.9-6.2-6.7-5.5-14.2-9.7-14.9-8.8-30.4-16.3-38.9-18.7-31.7-13.8-24-9.5-81.3-28.7-32.2-12.2-40-15.9-79.5-32.7-150.8-64-16.2-5.8-65.5-21.8-89.1-32.4-40.8-13.6-16.5-4.9-24.9-6.6-58.3-14.1-74.6-19.6-29.9-15.9-10.6-6.9-10.1-7.5-16-13.8-9.1-8.9-19.8-21.9-26.3-33.1-11.8-17.6-30.6-56-5.7-11.4-17.6-38.6-13.1-26.5-8.3-19.6-7.9-15-14.7-20.7-16.1-25-12.9-16.7-5.8-6.2-6.3-5.6-10-7.9-7.3-4.3-4-1.3-4.2-.7-8.5-.7-8.9 3.2-8.2 4.3-10.6 8.6-13.1 13.3-27.7 32.8-12.9 14.3-10.3 10.2-12.5 11.3-16.9 13.7-23.5 16.9-10.1 6.4-12.5 7.1-23.4 11.7-8.7 3.8-24.2 9.3" fill="none" stroke="#000" stroke-width="2.8" stroke-linejoin="round" stroke-linecap="round"/>
<path d="M488.3 3750.9l23.8 21.2 12.4 10 17.6 11.7 18.7 9.9 24.3 10.3 49.9 17.5 45 14.5 14.8 5.6 9.7 4.4 9.4 4.8 9.1 5.4 44.2 29.3 18.3 10.8 71.5 34.2 19.4 8.6 19.7 7.8 34.7 12.5 20 6.8 55.4 16.9 48.4 16.6 64.7 40.2 34.2 22.9 37.9 27.5 23.1 18.2 13.4 11.6 12.5 12.8 15.2 18.5 12.1 13.2 17.7 16.2 13.6 11.6 12.9 12.5 11.3 14 40.4 59.2 24.3 34.1 25.3 33.4 22.4 28 42.1 50.5 12 13.4 17.8 16 9.7 7 10.4 5.9 11.3 3.8 23.4 5.1 21.9-2 10.6-2.3 9.9-3.7 6.4-3 38.5-19.6 41.5-23.8 34.6-21.1 19.2-11 23-11.6 30.4-13.2 20.8-7 17.5-4.9 21.2-5.4 24.8-5.4 21.5-3.9 14.5-2 47.4-4.4-11.2-13.2-6-6.2-6.7-5.6-7-5-14.7-9.2-30.4-16.7-15.4-7.9-23.5-11.2-31.6-14.1-32.1-13.1-73.4-26.2-48.4-18.8-71.6-30.1-134.8-58.5-55.9-23.5-16.3-5.8-57.7-18.9-89.7-31.9-41-13.6-24.9-7.2-16.7-4.2-67.2-15.2-75.2-18.3-30-15.4-14.2-9-6.8-5-9.8-7.9-15.5-14.3-8.8-9-16.8-18.8-10.8-12.9-12.9-16.7-9.4-14-13.9-26.2-18.5-33.3-19.8-42.1-13.6-26.2-11.8-27.1-6.1-11.1-12.5-17-16.3-24.6-12.8-16.7-5.6-6.3-9.3-8.6-10-7.9-7.3-4.3-4-1.2-12.6-1.3-10.9 3.8-9.6 5.3-10.4 8.3-11.3 11.1-29.1 32.9-14.5 15.1-19 17.3-16.4 13.2-24.5 17.7-19.8 12.1-12.1 6.6-14.5 7.1-25.1 10.7" fill="none" stroke="#000" stroke-width="2.8" stroke-linejoin="round" stroke-linecap="round"/>
<path d="M488.3 3749.9l23.9 21.2 12.3 10.1 13.1 9.1 18.3 10.6 19.3 8.9 14.8 5.8 44.9 16.3 40 13.5 19.7 7.7 9.6 4.4 9.4 5 13.7 8.2 39.7 26.8 18.2 10.9 52.3 25.7 33.8 15.7 34.7 13.2 40.1 13.5 60.9 17.6 49.3 15 76.5 45 44.5 29.2 33.8 24.1 23.2 18.7 12.8 12.7 15.3 18.6 8 9 8.6 8.5 31.8 27.8 8.5 8.5 11.5 14 44.5 64.5 21.3 29.3 21.9 28.7 38.1 46.7 35.1 41.4 8.2 8.9 18 16 9.8 7.1 10.5 5.8 11.4 3.9 23.6 4.9 21.4-1.7 7-1.1 6.7-1.8 12.7-4.8 31.7-14.8 31.3-17.2 24.8-14.4 27.5-16.9 25-13.9 25.8-12.5 23.1-9.6 13.4-4.6 30.6-9 37.8-9.2 24.5-4.4 49.5-5.5-11.3-13.3-6-6.2-6.7-5.5-14.4-9.8-15-8.8-22.9-12.4-23.3-11.8-23.6-11.1-48-20.5-81.6-29.8-40.4-16-95.4-41.3-111-49.5-39.9-17.2-24.1-9.8-16.4-5.8-49.7-16-90.2-31.5-41.2-13.6-25-7.2-25.2-6.3-67.7-14.2-75.8-17.2-22.7-11.1-11-5.9-10.7-6.7-10.2-7.3-19.1-16.4-14.9-14.8-14.1-15.4-11-12.7-10.5-13.1-9.8-13.7-4.3-7.2-13.7-26.2-14.5-25.8-5.8-11.2-16.2-34.2-15.8-29.7-10-23.2-6.1-11.1-15.1-20.2-16.5-24.3-10.6-13-8.7-9.2-6.3-5.6-9.9-7.9-3.4-2.4-3.8-1.8-4-1.1-12.6-1.3-12.7 4.2-9.4 5.1-8.6 6.5-9.8 8.8-12.4 12.7-22.7 25-9.6 9.6-16.8 15.2-21.1 17.2-21.9 16-20.9 13.1-25.6 13.6-20.1 9.2" fill="none" stroke="#000" stroke-width="2.8" stroke-linejoin="round" stroke-linecap="round"/>
<path d="M488.3 3749l28 24.7 8.3 6.7 13 9.3 13.6 8.2 14.3 7.2 14.6 6.5 54.7 20.7 44.9 16 24.3 10.6 18.5 10.5 44.3 29.8 13.6 8.4 23.4 12.5 38.2 18.8 19.3 9.1 14.7 6.2 25 9.2 20.1 6.7 40.6 12.6 96 25.9 78.2 43.5 25.6 15.7 35 22.7 14.8 10.2 19.3 14.2 13.8 11.7 8.5 8.6 23.6 27.8 13.2 12.5 23.1 19.8 13.1 12.6 7.9 9.3 7.2 9.7 45.2 64.8 25.3 34.1 26.4 33.3 23.3 28 39.4 46.2 8.3 8.8 13.5 12.3 9.6 7.5 10.2 6.6 5.4 2.7 5.7 2.2 5.8 1.6 23.8 4.9 24.3-1.9 13.2-2.9 21.9-8.3 18.8-8.5 12.4-6.4 33.5-18.8 41.9-25.3 15.2-8.5 28.1-14 22.4-9.6 22.9-8 19.8-6.1 20-5.6 20.1-4.9 20.4-4 48.2-6.1-11.3-13.3-6.1-6.2-6.7-5.6-7.1-5-14.8-9.3-15.2-8.5-23.1-12.3-23.5-11.5-23.8-10.9-40.1-17.1-81.8-30.2-16.3-6.3-32.1-13.5-87.3-39-95-43.4-72.1-31-24.6-8.9-41.6-13.2-107.2-36.7-33.2-10.6-16.7-4.8-33.8-8.3-76.5-15.1-67.9-14.4-22.7-10.8-18.3-10-10.5-7-9.9-7.6-9.6-8.1-12.2-11.4-14.6-15-11.3-12.4-18.7-22.5-7.3-10.3-4.3-7.2-9.6-18.7-24.3-44.2-16.4-34.1-16.1-29.3-8.2-19.4-5.6-11.3-4.7-7-12.8-16.5-14.2-20.8-10.5-13-8.5-9.2-6.1-5.8-13.1-10.6-3.4-2.4-3.8-1.8-4-1.1-12.6-1.1-14.4 4.6-3.8 1.7-7.1 4.2-11.8 9.1-7.9 7.3-9.2 9.2-19.4 20.9-12.6 12.3-18.2 16.1-22.3 18-21.3 15.5-14.7 9.4-17 9.8-26.9 13.6" fill="none" stroke="#000" stroke-width="2.8" stroke-linejoin="round" stroke-linecap="round"/>
<path d="M488.3 3748.2l24 21.3 12.3 10.2 17.4 12.3 13.9 8.1 14.4 7 14.7 6.3 54.7 21.1 34.9 12.8 24.4 10.5 14.2 7.5 13.6 8.3 39.8 27.1 18.2 11.2 23.5 12.4 38.2 19.1 14.6 6.7 19.7 8.1 25.2 8.8 40.7 12.7 25.6 7.1 86.7 21.4 58.6 30.7 26.4 14.5 36.2 21.7 30.4 19.4 19.9 13.8 9.6 7.3 9.3 7.9 8.6 8.6 19.7 23.4 8.5 8.7 9 8.3 23.2 19.9 13.2 12.7 8 9.3 7.3 9.7 42.2 60 21.8 29.5 22.5 28.9 31.2 37.6 43.8 50.9 8.4 9 13.6 12.2 9.7 7.5 5 3.5 10.7 5.9 11.6 3.8 24 4.7 27.1-1.9 12.8-2.9 21.7-7.7 24.6-11.3 44.8-24.9 26.2-16.1 20.7-11.9 24.3-12.4 24.9-11.1 12.7-4.8 28.9-9.7 32.4-9.4 19.8-4.6 13.3-2.4 40.4-5.5-11.3-13.3-6.1-6.3-13.9-10.6-14.9-9.2-15.2-8.6-23.2-12.3-23.6-11.6-23.8-10.9-40.2-17.2-90.1-33.7-24.2-10-47.8-21.4-150.5-69.7-64.1-27.9-16.3-6.4-16.5-5.7-41.7-13.2-99.3-33.7-41.7-13.1-25.2-6.9-25.5-5.8-68.5-12.6-76.8-15.3-26.5-12.4-14.7-7.9-13.9-9.2-9.9-7.7-18.7-16.6-23.3-23.9-8.4-9.3-13.3-16.1-7.3-10.2-4.4-7.2-13.4-26.1-16.5-29.2-20.5-41.3-14.4-25.3-5.4-11.4-6.5-15.5-6.1-11-15.4-19.7-14.3-20.6-10.7-12.9-8.6-9.1-9.2-8.5-9.8-7.9-7.3-4.1-4-1-12.5-1.1-14.2 4.1-5.6 2.4-8.8 5.2-11.6 9-10.9 10-19.2 20.1-18.7 17.8-19.5 16.9-20.1 16.2-13.7 10.3-21.3 14.2-16.4 9.7-22.3 11.9" fill="none" stroke="#000" stroke-width="2.8" stroke-linejoin="round" stroke-linecap="round"/>
<path d="M488.3 3747.6l28.1 24.7 12.5 10.1 13.1 9.2 13.9 8.1 9.5 4.9 14.6 6.6 54.6 21.7 44.8 17.2 19.5 8.7 23.3 13.1 44.2 30.1 18.2 11.3 33 17.6 33.5 16.7 19.6 8.6 20.1 7.4 25.4 8.2 30.7 9.2 46.5 12 66.6 14.8 59.7 29.9 26.8 14.2 47.2 27.4 30.8 19.5 15 10.5 14.3 11.5 8.7 8.6 15.7 18.8 8.3 9.1 13.5 12.6 27.9 24.1 8.7 8.6 8 9.3 7.5 9.8 39 55.1 18.1 24.8 26.4 34 27.4 33.1 52.2 60.4 8.5 8.9 13.7 12.3 9.7 7.6 10.3 6.6 5.5 2.7 5.8 2.2 5.9 1.6 24.1 4.7 26.6-1.6 9.6-1.8 9.3-2.4 21.6-7.6 21.1-9.8 38.1-21 34.3-20.9 20.4-11.5 24-12 24.4-10.7 37.5-13.4 18.9-6 19.2-5.3 22.8-4.8 39.5-5.9-11.4-13.3-6.1-6.3-13.9-10.7-14.9-9.2-15.3-8.6-38.9-20.1-31.9-14.8-32.1-13.9-24.5-9.7-65.7-24.5-40.3-16.9-55.6-25.7-134.6-63.4-48.1-21.3-24.3-10-16.5-6.1-50.1-15.9-66.4-22.6-41.6-13.6-33.5-10.2-25.4-6.7-25.6-5.7-77.4-13.5-68.6-13-26.5-12.1-14.8-7.7-17.3-11.5-13-10.4-9.4-8.3-9.1-8.6-17.5-17.8-13.9-15.5-8-9.7-9.6-13.6-15.4-29.7-18.5-32.8-16.7-33.7-18.6-32.6-9.9-23-3.8-7.5-2.3-3.5-15.5-19.6-14.5-20.5-7.9-9.6-17.6-17.8-12.9-10.6-3.5-2.4-3.8-1.7-4-1-12.5-1-12.1 3.1-5.7 2-5.4 2.5-7 4.2-6.6 4.8-11.1 9.3-23.7 23.7-18.4 17.1-35.5 29.9-18.3 14-13.8 9.5-15.8 10-25.1 14.4" fill="none" stroke="#000" stroke-width="2.8" stroke-linejoin="round" stroke-linecap="round"/>
<path d="M488.3 3747l36.4 31.6 17.3 12.6 13.8 8.3 19.3 9.4 9.8 4.2 94.3 37.7 24.3 11.3 9.4 5.2 13.6 8.5 39.8 27.4 13.6 8.6 13.9 8 28.3 15.1 28.8 14.3 24.7 10.5 15.1 5.4 20.4 6.5 36 10.5 15.5 4.2 31.2 7.5 20.7 4.5 46.5 9.1 60.4 29.2 27.3 14 47.9 26.9 36.4 22.5 19.8 14.5 9.2 8.1 8.4 9 15.8 19 4.3 4.4 13.6 12.6 28 24.2 13 13.2 11.4 14.6 46.6 65.3 14.8 19.7 30.7 38.7 23.9 28.3 48.6 55.8 8.5 9 18.6 16.2 10.1 7.1 10.8 5.9 5.8 2.2 6 1.6 24.2 4.6 16.4-.6 12.9-1.1 12.5-2.4 15.4-4.4 18.2-7.1 20.5-10.2 31.7-17.6 28-17.2 22.8-13.1 26.4-13.3 21-9.3 33.6-12.7 34.1-11 22.2-5.5 45.2-7.5-11.4-13.4-6.1-6.3-14-10.6-22.6-13.6-38.8-20.6-31.7-15-40.3-17.6-24.5-9.8-65.7-24.7-32.4-13.5-39.8-18.4-158.3-75.6-32-14.5-40.5-17-16.5-6-50.3-15.9-66.5-22.5-41.8-13.4-33.7-10.1-25.4-6.6-25.7-5.5-77.8-12.9-68.9-12.4-26.6-11.9-18.4-9.6-7-4.5-13.4-9.8-12.8-10.7-9.2-8.4-26.4-26.5-18.9-22.2-9.2-13.9-11.2-22.4-20.5-36.4-18.8-37.2-16.9-28.7-9.8-23-6.1-10.9-15.7-19.5-14.5-20.3-8.1-9.5-17.6-17.7-12.9-10.6-3.5-2.3-3.8-1.7-4-1-12.5-.9-11.9 2.8-5.7 1.8-9 4.1-5.1 3.1-9.8 7.2-9.3 7.9-17.5 17.4-15.1 14.1-21.8 19-25.5 21-14.7 11.2-13.4 9.4-12 7.8-24.4 14.7" fill="none" stroke="#000" stroke-width="2.8" stroke-linejoin="round" stroke-linecap="round"/>
<path d="M488.3 3746.5l36.5 31.7 12.8 9.7 13.5 8.7 19.1 9.9 9.8 4.4 89.3 36.4 14.8 6.3 19.3 9.3 23 13.8 35.3 24.4 22.7 14.5 32.8 18.1 28.7 14.6 19.6 8.8 25.2 9.3 56.5 16.6 31.2 8 26.1 5.7 57.3 10.5 55.6 25.9 33.1 16.3 48.5 26.5 36.9 22.2 15.2 10.6 14.2 11.9 8.4 9 11.8 14.4 8.4 9.1 13.7 12.6 28.2 24.2 8.8 8.7 12 14.2 47 65.4 30 39.5 23.5 28.8 24.1 28.2 44.9 51.3 8.6 9 13.9 12.3 9.8 7.6 10.4 6.6 5.6 2.7 5.8 2.2 6 1.6 24.3 4.6 19.4-.6 12.7-1.2 15.4-3.1 12.2-3.5 12.1-4.5 20.4-9.7 34-18.7 47.2-28.4 28.8-14.8 23.6-10.6 42-16 30.7-9.6 18.8-4.4 38.2-6.5-11.4-13.4-6.2-6.3-14-10.6-22.6-13.7-31-16.6-15.8-7.8-39.9-18.4-32.4-13.8-82.2-31.4-32.4-13.7-31.9-14.8-166.2-80.4-32-14.5-32.4-13.8-24.7-9.2-50.4-15.9-50-17-41.8-13.5-50.5-15.2-25.6-6.5-25.8-5.3-78-12.4-69.2-11.9-26.6-11.7-14.8-7.4-10.7-6.4-6.8-4.8-19.5-15.5-18.3-16.9-14.7-14.7-8.5-9.1-10.8-12.7-7.4-10-4.4-7.1-13.1-26-20.5-36.4-15-29.7-19-32.2-9.9-22.9-6-10.9-15.8-19.4-14.6-20.2-11-12.4-8.8-8.9-12.4-11.1-6.5-5.2-3.5-2.3-3.8-1.7-4-.9-12.5-.9-9.8 2.1-9.5 2.7-5.4 2.3-8.6 4.9-14.4 10.8-38.4 36-23.1 19.9-23.5 19.4-25.9 19.2-33.8 21.7" fill="none" stroke="#000" stroke-width="2.8" stroke-linejoin="round" stroke-linecap="round"/>
<path d="M488.3 3746.1l40.7 35.1 17.5 12.4 9.3 5.4 9.5 5 14.7 6.8 99.1 41.2 19.4 9.1 9.5 5.1 18.3 11.2 39.8 27.6 13.6 8.7 37.4 21.1 33.5 17 19.8 8.5 20.2 7.2 30.9 9.2 36.3 9.9 41.8 9.5 62.9 10.8 67.4 30.7 27.7 13.7 48.9 26.3 31.9 19 15.3 10.4 14.3 11.9 8.5 9 11.9 14.4 8.4 9.1 9.1 8.5 33 28.4 8.8 8.8 12.1 14.2 47.3 65.5 26.3 34.6 27.5 33.8 24.3 28.2 45.2 51.4 8.6 9 13.9 12.3 9.9 7.6 10.5 6.7 5.6 2.7 11.8 3.8 24.4 4.5 19.2-.5 9.4-.6 9.3-1.2 12.3-2.6 12.1-3.5 14.8-5.8 22.8-11.4 25.2-13.9 46.5-28.1 22.6-11.9 28.9-13.5 38.4-15.2 33.2-10.9 15.5-3.9 40.7-7.4-11.4-13.4-6.2-6.3-6.8-5.6-7.2-5.1-15-9.2-15.4-8.7-39.1-20.2-32-14.8-40.5-17.5-74.1-28.3-32.5-13.5-47.8-22.4-158.2-77.3-40.2-18.2-32.5-13.5-16.6-6-50.5-15.8-58.4-19.7-50.4-15.9-25.4-7.5-34.1-8.8-25.9-5.2-69.5-10.5-78.1-12.8-30.4-13.4-14.8-7.5-7-4.3-13.6-9.7-19.1-15.9-21.1-20-8.7-8.9-11.2-12.2-7.9-9.7-4.9-6.7-4.3-7.1-13.1-26-20.5-36.2-13.1-26-6-10.9-13.2-21.2-3.8-7.3-9.8-23-4.3-7.1-15.8-19.3-14.7-20.1-8.2-9.3-14.7-14.7-6.2-5.5-9.7-7.9-3.5-2.3-3.8-1.7-4-.8-12.4-.9-9.8 1.9-13.1 3.8-7 3.5-6.7 4.2-12.6 9.5-30.7 28.6-50.2 42.9-14.1 11.1-14.5 10.6-31.4 20.8" fill="none" stroke="#000" stroke-width="2.8" stroke-linejoin="round" stroke-linecap="round"/>
<path d="M488.3 3745.7l28.3 24.9 12.4 10.3 13 9.5 9.1 5.8 9.4 5.2 19.4 9.3 99.1 41.7 24.2 11.8 18.5 10.9 44.3 30.5 18.2 11.6 32.7 18.5 33.6 17.1 19.8 8.4 20.3 7.2 20.6 6.2 41.5 11.3 31.4 7.5 21 4.2 58 9.1 56.6 25.1 33.7 15.9 49.5 25.8 27 15.2 15.7 9.9 15.3 10.8 9.4 8 8.6 9.1 11.9 14.4 8.5 9.2 13.8 12.6 28.4 24.3 8.9 8.8 8.2 9.3 7.6 9.9 47.5 65.6 15.1 19.9 23.3 29.2 24.2 28.6 57.7 65.5 8.5 9 14.1 12.3 9.9 7.6 10.5 6.7 5.6 2.7 5.9 2.2 6 1.6 24.5 4.5 22.1-.5 12.4-1 12.2-2.1 12.1-3 17.7-6.6 17.1-8.2 25-13.5 54.2-32.5 25.2-13.1 25.8-12 23.2-9.6 20.6-7.8 26.9-8.8 18.4-4.4 34.1-6.3-11.5-13.4-6.1-6.3-14.1-10.7-22.6-13.6-39-20.7-40-18.7-40.5-17.5-82.3-31.7-32.4-14-31.9-15.1-158.1-78-48.1-22.1-32.7-13.5-16.6-6-42.1-13-66.9-22.5-50.6-15.7-33.9-9.8-25.6-6.3-26-5.1-69.7-10.2-78.3-12.5-34.2-14.9-11-5.7-10.6-6.6-10.1-7.2-22.3-18.6-15.1-14.2-14.6-14.7-8.4-9.2-7.9-9.6-4.9-6.7-4.3-7.1-11.1-22.3-18.5-32.5-19.1-36.9-19.3-31.9-9.9-22.9-6-10.9-13.4-15.9-17.3-23.3-11.1-12.3-18.1-17.1-13.1-10.2-3.8-1.6-4.1-.9-12.4-.8-9.7 1.8-7.5 1.7-5.5 1.8-7.1 3.3-6.7 4-15.6 11.8-23.1 21.6-57.1 48.9-18.6 14.6-14.4 10.3-22.8 15.3" fill="none" stroke="#000" stroke-width="2.8" stroke-linejoin="round" stroke-linecap="round"/>
<path d="M488.3 3745.4l36.5 31.9 12.8 9.8 13.5 8.9 9.4 5.3 14.5 7.1 99 42.2 14.7 6.7 14.4 7.3 18.5 11 44.3 30.6 18.2 11.6 37.5 21.2 28.8 14.6 14.8 6.5 25.4 9 25.8 7.6 41.6 11.1 42 9.2 26.5 4.3 37 5.2 57.1 24.8 33.9 15.7 55.3 28.5 32.4 18.6 15.5 10.4 9.9 7.6 9 8.6 16.2 19.1 8.5 9.1 13.8 12.6 23.9 20.2 13.5 13 8.2 9.4 7.7 9.8 40.4 55.7 22.5 29.9 27.4 34.1 32.6 37.9 45.6 51.4 8.6 9.1 14.1 12.3 9.9 7.6 10.6 6.7 5.6 2.7 5.9 2.2 6 1.6 24.6 4.5 21.9-.4 15.4-1.2 15.2-2.8 11.9-3.4 11.7-4.5 16.9-8.1 30.3-16.5 32-19.6 21.7-12.5 27.9-14.2 22.7-10.4 28.9-11.8 26.4-9.5 21-5.9 39.9-7.8-11.5-13.4-6.2-6.3-6.8-5.6-7.2-5.1-15-9.3-38.9-21.1-31.8-15.4-48.4-21.4-24.6-9.9-57.8-22.1-16.3-6.6-24.3-10.7-31.8-15.2-166.1-82.5-40.2-18.3-24.4-10.2-24.8-9.2-50.6-15.8-58.6-19.7-59.1-18.2-25.5-7.1-25.7-6.3-26-5.1-61.2-8.6-87.2-13.4-30.4-13-14.9-7.4-7.1-4.2-13.6-9.5-22.3-18.5-15.2-14.1-14.7-14.6-8.4-9.2-7.9-9.6-9.3-13.7-11-22.3-22.5-39.8-15.2-29.5-19.4-31.8-9.8-22.9-6.1-10.8-16-19.1-12.2-16.7-8-9.6-14.7-14.6-9.2-8.4-13.1-10.2-3.8-1.6-4-.8-12.4-.8-15.3 2.8-5.6 1.5-5.4 2.1-13.4 7.7-12.4 9.4-28.9 26.4-53.6 45.8-20 15.6-31.9 22.3" fill="none" stroke="#000" stroke-width="2.8" stroke-linejoin="round" stroke-linecap="round"/>
<path d="M488.3 3745.2l36.6 31.9 12.7 9.9 13.5 8.9 9.4 5.3 14.5 7.1 94 40.4 14.8 6.6 14.5 7.2 14.1 7.8 9.1 5.7 44.4 30.7 18.2 11.6 32.7 18.8 19 10.1 14.5 7.1 19.9 8.4 20.3 7 20.7 6.1 52.1 13.7 21.1 4.7 26.4 4.9 53.1 7.3 63.1 27 34 15.8 55.5 28.5 16.3 9.1 16 9.8 15.4 10.7 9.6 8 8.6 9.1 12 14.4 8.5 9.2 13.9 12.6 19.2 16.1 18.3 17.1 8.2 9.4 7.7 9.9 47.9 65.8 19.1 24.8 27.6 34 24.6 28.3 54.1 60.9 4.4 4.4 14.1 12.3 10 7.7 10.6 6.6 5.6 2.8 11.9 3.7 24.6 4.5 24.9-.4 12.2-.9 15.2-2.6 11.9-3.3 17.3-6.9 13.9-6.9 27.3-14.8 37.1-22.7 16.2-9.3 27.6-14.2 22.5-10.4 31.5-13.1 29.2-10.3 21-5.5 33.5-6.6-11.5-13.4-6.2-6.3-6.8-5.6-7.3-5.1-15-9.3-15.4-8.7-31.3-16.4-32-15.1-40.5-17.8-16.3-6.7-66-25.3-32.6-13.8-39.9-19-166-82.9-32.1-14.8-32.6-13.8-24.9-9.2-42.2-13-75.5-25.1-42.3-12.9-34-9.6-25.8-6.3-26-4.9-70-9.7-78.6-11.8-30.5-13-14.8-7.3-7.1-4.2-10.3-7-9.9-7.5-12.8-10.6-15.3-13.9-11.9-11.6-11.5-11.9-8.1-9.4-7.5-9.9-4.4-7.1-12.9-25.9-18.6-32.4-17.2-33.1-4.1-7.2-13.4-20.9-3.9-7.4-9.7-22.9-4.3-7-13.4-15.8-14.9-19.9-8-9.5-8.8-8.9-15.1-14.1-9.7-7.8-3.4-2.3-3.8-1.7-4.1-.8-12.4-.8-17.1 3.1-5.5 1.6-5.3 2.2-11.7 6.7-13.9 10.5-25.8 23.5-59.1 50.5-18.3 14.2-28.4 20.2" fill="none" stroke="#000" stroke-width="2.8" stroke-linejoin="round" stroke-linecap="round"/>
<path d="M488.3 3745l40.8 35.3 12.9 9.7 9.1 5.8 14.2 7.8 14.6 6.9 89.1 38.4 29.2 13.8 9.5 5.2 18.3 11.4 39.8 27.7 18.2 11.7 37.4 21.4 28.9 14.7 19.8 8.4 20.4 7 25.9 7.5 47 12.1 21.1 4.7 21.2 3.9 58.5 7.9 63.4 26.8 28.5 12.9 39.2 19.5 22.1 11.6 21.9 12.2 15.9 10 10.2 7.2 9.6 8 8.6 9.1 12 14.5 8.6 9.2 9.2 8.5 28.7 24.3 13.6 13 8.2 9.4 7.8 9.9 44.3 60.8 22.8 29.9 27.7 34 24.7 28.4 50 56.2 8.6 9.1 19.1 16.2 10.3 7.2 11 6 11.9 3.7 24.7 4.5 33.9-.9 12.1-1.5 15-3.4 17.3-6.5 19.4-9.5 27.1-14.8 47.6-28.8 27.4-14.3 30.7-14.3 31.3-12.9 26.2-9.2 17.9-4.6 33.3-6.7-11.5-13.4-6.2-6.4-14.1-10.6-22.7-13.7-39.1-20.7-23.9-11.5-40.5-18-32.7-13.4-57.8-22.2-32.6-13.8-39.8-19.1-158.1-79.4-40.1-18.7-24.4-10.5-16.4-6.5-16.7-6-42.2-13-67.2-22.4-42.2-13-42.6-12.1-25.8-6.2-26-4.9-70.1-9.5-78.7-11.6-30.5-12.9-14.9-7.2-7.1-4.2-13.7-9.4-19.3-15.6-24.4-22.5-11.6-11.8-11-12.4-7.5-9.9-4.3-7-11-22.3-20.5-36-19.3-36.7-17.6-28-9.8-22.9-6.1-10.8-16-19-14.9-19.9-8.3-9.2-11.9-11.5-12.4-11-6.4-5.2-3.5-2.3-3.8-1.6-4-.8-12.4-.8-15.2 2.5-7.4 1.9-3.5 1.4-11.9 6.3-14 10.1-22.9 20.7-64.5 55.3-18.2 14.2-26.5 19.1" fill="none" stroke="#000" stroke-width="2.8" stroke-linejoin="round" stroke-linecap="round"/>
<path d="M488.3 3744.8l36.6 32 17.1 13.1 9.1 5.8 9.4 5.3 14.5 7.2 94 40.9 19.6 9 14.3 7.4 23.1 14.1 35.4 24.7 18 11.9 37.2 21.7 19.1 10.2 14.5 7.1 19.9 8.4 20.4 7 25.9 7.4 47.1 12.1 21 4.6 21.3 3.9 58.7 7.6 69.3 29.1 28.4 13.1 56 28.2 16.5 9 21.4 13.1 10.2 7.2 9.7 8.1 8.6 9 12 14.5 8.6 9.2 9.2 8.5 33.4 28.6 13.2 13.4 11.8 14.7 44.4 60.8 19 25 27.6 34.1 24.6 28.5 37.8 42 16.5 19 8.6 9 19.1 16.3 10.3 7.2 11 6 12 3.7 24.7 4.4 24.6-.2 12.2-.7 18.1-2.9 8.9-2.5 17.1-6.7 19.2-9.6 24.3-13.3 39.3-24.1 13.4-7.5 27.4-14.1 25-11.6 25.4-10.8 25.9-9.6 17.7-5.1 39.1-8.2-11.5-13.4-6.2-6.4-14.1-10.6-22.7-13.7-23.4-12.7-15.8-8-32-15.2-40.5-17.8-90.6-35.5-32.4-14.2-31.9-15.5-158-79.7-48.2-22.3-32.7-13.5-16.7-5.9-42.3-13-67.2-22.4-50.8-15.5-34-9.5-25.9-6.2-26.1-4.9-70.1-9.3-78.8-11.5-30.5-12.8-14.9-7.2-10.6-6.4-10.2-7.1-13.1-10.2-12.5-10.8-27-25.7-11.2-12.2-5.2-6.4-9.3-13.7-12.9-26-18.6-32.3-19.3-36.6-17.6-28-3.6-7.5-6.2-15.4-6.1-10.8-16.1-18.9-14.9-19.9-8.3-9.1-24.3-22.6-9.9-7.5-3.8-1.6-4.1-.8-12.4-.7-15.1 2.4-7.4 1.8-5.3 2.1-11.7 6.5-13.9 10.2-17 15.5-68.4 58.8-22.7 17.7-21.7 15.7" fill="none" stroke="#000" stroke-width="2.8" stroke-linejoin="round" stroke-linecap="round"/>
<path d="M488.3 3744.7l40.8 35.4 12.9 9.7 13.7 8.6 19.3 9.8 94 41 29.2 13.9 9.4 5.2 13.8 8.5 44.4 30.8 18.1 11.6 37.4 21.6 19.1 10.1 9.8 4.6 19.9 8.4 20.4 7 20.7 6 52.3 13.4 21.1 4.6 21.2 3.8 21.4 3 37.4 4.4 63.8 26.5 34.3 15.5 56.1 28.1 16.5 9 21.5 13.1 10.3 7.2 9.6 8 8.7 9.1 12 14.5 8.6 9.2 9.2 8.5 33.4 28.6 13.2 13.4 15.6 19.7 48.2 65.9 27.2 34.5 32.5 38.4 62.7 70.3 9.1 8.7 14.5 12 10.3 7.2 11 5.9 5.9 2.2 6.1 1.6 24.7 4.4 21.5-.1 15.2-.7 12.1-1.6 14.8-3.6 14.3-5.4 22-10.8 26.8-14.8 33.9-20.9 13.3-7.6 27.2-14.2 27.7-13 28.1-12 23-8.5 20.6-5.9 35.9-7.5-11.5-13.5-6.2-6.3-14.1-10.7-15.1-9.3-38.9-21.1-39.9-19.1-40.5-17.8-24.7-10-49.6-19-24.6-10-16.2-7.2-31.9-15.2-166-83.9-32-15.1-40.7-17.5-24.9-9.1-42.3-13-67.2-22.4-33.9-10.4-42.5-12.3-25.8-6.5-26-5.3-26.2-4-52.7-6.7-78.9-11.3-34.3-14.5-14.7-7.5-17.3-11.4-13-10.2-12.6-10.8-27-25.6-11.2-12.2-5.2-6.4-5-6.7-4.3-7-12.9-25.9-18.6-32.4-19.3-36.5-17.7-28-9.8-22.8-3.8-7.4-2.3-3.4-18.6-22.2-9.8-13.4-8.1-9.4-24-22.8-9.6-7.8-3.4-2.3-3.8-1.6-4.1-.8-12.4-.8-16.9 2.7-10.9 3.5-11.7 6.4-13.9 10.1-17 15.4-74 63.5-38.2 28.6" fill="none" stroke="#000" stroke-width="2.8" stroke-linejoin="round" stroke-linecap="round"/>
<path d="M488.3 3744.6l28.4 25 16.6 13.8 13.2 9.3 9.2 5.6 24.2 12.1 34.7 14.8 64.2 28.5 24.1 12.1 14 8.2 9 5.9 35.4 24.8 22.6 14.7 42.1 24.2 24.2 12.2 14.8 6.4 25.5 8.9 36.4 10.1 36.7 9.2 21.1 4.6 21.2 3.8 16 2.3 42.9 5 63.8 26.4 34.4 15.5 39.5 19.3 22.3 11.6 11 6 21.5 13 10.3 7.2 9.6 8.1 8.7 9.1 12 14.5 8.6 9.2 42.7 37.1 13.2 13.4 11.9 14.7 48.2 65.9 31 39.6 28.4 33.6 66.9 75 9.1 8.7 14.5 12.1 10.3 7.2 11.1 5.9 5.9 2.2 6.1 1.6 24.7 4.4 27.5-.2 9.1-.5 12.1-1.6 14.8-3.5 14.3-5.4 19.2-9.3 24.2-13.1 36.5-22.4 18.5-10.6 24.4-12.7 30.4-14.3 28.1-11.9 25.8-9.3 20.7-5.4 29.9-6.2-11.5-13.5-6.2-6.3-14.1-10.7-22.8-13.7-39.1-20.7-24-11.4-40.5-18.1-24.5-10.2-66.1-25.5-24.5-10.3-16.1-7.4-31.8-15.5-158-80-40.1-18.8-32.6-13.9-25-9.1-42.3-13-67.2-22.4-59.4-17.9-25.6-7-25.9-6.1-26.1-4.8-17.5-2.6-44-5.4-87.6-12.4-30.6-12.8-14.9-7.1-7.2-4.2-13.7-9.3-22.5-18.2-24.3-22.5-8.7-8.8-11-12.3-7.5-9.9-4.4-7-10.9-22.3-22.5-39.6-17.4-32.9-15.7-24.4-3.9-7.3-7.9-19.1-3.8-7.4-2.3-3.4-16.1-18.9-14.9-19.8-8.4-9.2-21.1-19.8-9.7-7.8-3.4-2.3-3.8-1.6-4-.8-12.4-.7-15.1 2.2-7.4 1.8-5.3 2-11.7 6.3-9.4 6.5-6 4.8-15.5 14.1-67.9 58.5-19.4 15.4-24.5 18.1" fill="none" stroke="#000" stroke-width="2.8" stroke-linejoin="round" stroke-linecap="round"/>
<path d="M488.3 3744.6l40.8 35.4 12.9 9.7 13.7 8.6 24.2 12.1 39.7 17 54.3 24.1 24.2 11.8 14.1 8 13.7 8.7 35.4 24.8 18 11.9 37.3 21.9 19 10.2 14.5 7.1 19.9 8.4 25.7 8.5 20.8 5.8 47.1 11.9 21.1 4.6 21.2 3.8 59 7.1 75.5 31.3 28.5 13.2 56.2 28.2 21.9 12.3 10.6 6.7 10.3 7.2 9.7 8 8.7 9.1 12 14.5 8.6 9.2 14 12.6 28.7 24.6 13.2 13.4 11.9 14.7 48.3 65.9 31 39.6 24.3 28.9 71.1 79.8 9.1 8.7 14.5 12 10.3 7.2 11.1 6 12 3.7 24.7 4.4 36.6-.6 15.1-2.1 14.7-3.9 16.9-6.9 19-9.6 18.8-10.2 33.8-20.8 18.4-10.7 32.5-16.9 24.8-11.6 25.2-10.8 25.7-9.5 17.6-5 35.8-7.6-11.5-13.5-6.2-6.3-14.1-10.7-22.8-13.7-39.2-20.7-40.1-18.8-32.4-14.2-24.7-10-49.6-19-40.8-17.2-39.9-19.3-55.1-28.3-110.8-55.7-40.3-18.5-32.7-13.5-16.7-5.9-42.4-13-67.2-22.4-50.9-15.4-34.1-9.5-25.9-6.1-26.1-4.8-61.5-7.9-87.7-12.4-30.6-12.7-14.9-7.1-7.2-4.1-13.7-9.3-19.4-15.5-12.4-11-18-17.1-16.8-18.2-7.5-9.9-4.4-7-12.8-26-16.6-28.6-21.4-40.2-15.7-24.3-3.9-7.3-9.7-22.9-4.3-7-16.1-18.9-14.9-19.8-8.4-9.2-24.3-22.4-9.9-7.5-3.8-1.6-4.1-.8-12.4-.7-15 2.2-5.6 1.2-5.4 1.8-5.2 2.3-8.2 4.7-12.5 8.8-18.4 16.5-69.2 59.6-20.9 16.5-21.4 15.9" fill="none" stroke="#000" stroke-width="2.8" stroke-linejoin="round" stroke-linecap="round"/>
<path d="M488.3 3744.5l28.4 25 16.6 13.8 8.7 6.4 13.7 8.6 19.3 9.8 44.6 19.3 59.2 26.4 19.3 9.6 9.5 5.2 13.8 8.5 44.3 30.8 18.2 11.7 32.6 19.1 19.1 10.2 14.5 7.1 19.9 8.4 25.7 8.5 31.2 8.5 36.7 9.2 37 7.5 26.8 3.7 37.5 4.2 64 26.3 34.5 15.4 56.3 27.9 22.1 12.1 16.1 9.9 10.3 7.2 9.6 8 4.5 4.4 16.3 19.2 8.6 9.2 14 12.6 24 20.3 13.7 13 16.1 19.3 48.3 66 11.5 15 27.6 34.3 20.4 23.9 62.7 70.4 8.7 9.1 9.4 8.4 9.8 7.9 10.3 7.2 11.1 6 12 3.7 24.7 4.4 36.6-.6 15-2 14.7-3.9 14.2-5.6 24.5-12.3 23.9-13.4 28.4-17.7 18.5-10.6 29.8-15.4 30.3-14.1 28.1-11.7 23-8 14.7-3.9 32.8-6.9-11.5-13.5-6.2-6.3-14.1-10.7-22.8-13.7-39.2-20.7-40.1-18.8-32.5-14.2-24.6-10-57.8-22.3-24.5-10.3-16.2-7.4-31.8-15.5-158-80.3-40.1-18.8-32.6-13.8-25-9.2-50.7-15.7-58.9-19.6-59.4-17.9-25.6-7-25.9-6.1-26.1-4.8-61.5-7.9-87.8-12.3-30.5-12.7-15-7.1-14.1-8.6-6.7-4.8-13.1-10.2-12.6-10.7-24.1-22.6-14.2-15.1-5.2-6.4-5-6.6-6.3-10.7-10.9-22.3-20.5-35.9-15.4-29.3-19.8-31.5-9.8-22.8-6-10.8-16.2-18.9-14.9-19.8-8.4-9.1-15-14.3-9.3-8.2-9.9-7.5-3.8-1.6-4.1-.7-12.4-.8-16.9 2.6-3.7 .8-7.1 2.5-8.5 4.3-4.8 3-10.9 7.7-18.4 16.5-73.5 63.2-37.8 28.7" fill="none" stroke="#000" stroke-width="2.8" stroke-linejoin="round" stroke-linecap="round"/>
<path d="M488.3 3744.5l32.5 28.5 12.5 10.3 8.7 6.4 13.7 8.6 19.3 9.8 44.6 19.3 54.2 24.2 24.3 11.8 14.1 8 13.7 8.7 35.4 24.8 22.6 14.8 37.3 21.7 28.9 14.7 19.9 8.3 20.5 7 31.2 8.7 36.7 9.3 26.3 5.8 16 2.9 16 2.4 48.3 5.5 69.8 28.7 40 18.4 50.6 25.4 21.9 12.3 10.7 6.7 10.3 7.2 9.7 8 8.7 9.1 12 14.5 8.6 9.2 9.3 8.5 28.8 24.4 13.6 13 8.4 9.5 7.7 9.8 48.4 66 19.2 24.9 23.9 29.2 24.7 28.6 54.5 61 8.7 9.1 14.2 12.3 10 7.7 10.7 6.7 5.6 2.7 12 3.7 24.8 4.5 36.5-.6 18-2.6 11.8-3.3 14.1-5.6 16.4-8 29.3-16.1 33.7-20.8 18.5-10.5 29.8-15.3 24.8-11.5 30.9-13 20-7.1 23.6-6.1 26.8-5.6-11.5-13.5-6.2-6.3-14.1-10.7-22.8-13.7-39.2-20.7-24-11.5-48.6-21.5-24.6-10-57.9-22.3-24.5-10.3-16.1-7.4-23.9-11.6-165.9-84.2-32-15.2-40.7-17.5-25-9.1-42.3-13-67.3-22.4-50.9-15.4-25.6-7.2-34.4-8.4-26.2-4.7-61.5-7.9-87.7-12.3-30.6-12.7-18.5-9.1-17.3-11.4-13.1-10.1-12.6-10.8-12.2-11.1-14.8-14.4-11.3-12.2-5.2-6.3-5-6.7-4.3-7-12.9-25.9-18.5-32.3-17.4-32.9-19.8-31.6-9.8-22.8-6.1-10.8-13.5-15.6-15-19.8-8.1-9.4-14.8-14.4-12.4-11-9.8-7.5-3.9-1.6-4-.8-12.4-.7-18.7 2.9-9.1 3-11.7 6.2-13.9 10-16.9 15.2-70.5 60.7-19.4 15.3-21.3 15.9" fill="none" stroke="#000" stroke-width="2.8" stroke-linejoin="round" stroke-linecap="round"/>
<path d="M488.3 3744.5l32.5 28.5 12.5 10.3 8.7 6.4 13.7 8.6 19.3 9.8 44.6 19.3 54.2 24.2 29.1 14.4 23 14.1 39.8 27.9 18.2 11.7 37.3 21.7 28.9 14.7 19.9 8.4 25.7 8.5 62.7 16.4 26.3 5.8 16 2.9 16 2.4 48.3 5.5 58.2 23.8 40.3 17.8 56.4 27.9 22.1 12.1 16.1 9.8 10.3 7.2 9.7 8 8.7 9.1 12 14.6 8.6 9.2 38.1 32.9 9.2 8.5 8.7 9.1 11.8 14.7 48.4 66 27.1 34.7 32.4 38.5 67.1 75.1 9 8.7 14.6 12 10.3 7.2 11.1 6 12 3.7 24.7 4.4 36.5-.5 12.1-1.5 8.9-1.8 8.8-2.6 14.1-5.6 16.4-8 24.1-13 49.4-30 29.6-15.6 27.4-13.1 27.9-12.1 28.6-10.5 23.5-6.1 26.8-5.6-11.5-13.5-6.2-6.3-14.1-10.7-22.8-13.7-39.2-20.7-24-11.5-48.6-21.5-24.6-10-57.9-22.3-40.6-17.7-23.9-11.6-165.9-84.3-40.1-18.8-32.6-13.8-25-9.2-42.4-13-67.2-22.3-59.4-17.9-25.7-7-25.8-6.1-26.2-4.8-70.3-9-79-11.1-30.5-12.7-18.6-9.1-10.5-6.6-13.3-9.8-12.9-10.4-9.3-8.2-24-22.8-8.5-9-8-9.5-9.3-13.7-10.9-22.3-22.5-39.5-17.4-32.9-17.8-27.9-11.5-26.6-4.3-7-16.1-18.9-15-19.8-8.4-9.1-24.3-22.4-9.9-7.5-3.8-1.6-4.1-.8-12.4-.7-16.9 2.5-5.5 1.3-7.1 2.8-13.1 7.5-12.2 9.1-15.5 14-69 59.5-14.8 11.9-27.3 20.5" fill="none" stroke="#000" stroke-width="2.8" stroke-linejoin="round" stroke-linecap="round"/>
<path d="M488.3 3744.5l32.5 28.5 12.5 10.3 13.2 9.4 9.2 5.6 19.3 9.8 44.6 19.3 54.2 24.2 29.1 14.4 23 14.1 39.8 27.9 18.2 11.7 37.3 21.7 28.9 14.7 19.9 8.4 25.7 8.5 15.6 4.4 47.1 12 26.3 5.8 21.3 3.8 59 7 64 26.2 34.5 15.4 56.4 27.9 16.6 8.9 21.6 13 10.3 7.2 9.7 8 8.7 9.1 12.1 14.5 8.5 9.2 9.3 8.5 24.1 20.3 18.4 17.2 8.3 9.4 7.8 9.9 44.6 60.9 19.1 25 23.7 29.4 24.6 28.6 62.9 70.4 4.5 4.4 19.1 16.3 10.3 7.2 11.1 6 12 3.7 24.8 4.4 27.3-.1 9.2-.5 12-1.4 9-1.8 8.7-2.6 14.1-5.6 19.1-9.4 21.4-11.6 41.5-25.4 18.6-10.4 24.4-12.5 27.5-12.9 22.4-9.6 28.5-10.5 23.5-6.1 26.8-5.6-11.5-13.5-6.2-6.3-14.1-10.7-22.8-13.7-39.2-20.7-24-11.5-48.6-21.5-24.6-10-57.9-22.3-40.6-17.7-23.9-11.6-118.4-60.4-55.5-27.8-40.2-18.5-32.8-13.5-16.7-5.9-42.4-13-75.7-25-50.9-15.2-25.7-7-25.9-6.1-26.1-4.8-70.3-9-79-11.1-30.6-12.7-18.5-9.1-10.5-6.6-13.4-9.8-22.1-18.6-24-22.8-8.5-9-8-9.5-5-6.6-6.3-10.7-10.9-22.3-20.5-35.9-15.4-29.3-19.8-31.5-9.8-22.8-3.8-7.4-2.3-3.4-16.1-18.9-15-19.8-8.4-9.1-11.9-11.4-12.4-11-9.8-7.5-3.9-1.6-4-.8-12.4-.7-16.9 2.5-10.9 3.3-13.3 7.3-12.3 8.9-16.9 15.2-71.9 61.9-17.9 14.1-21.3 15.9" fill="none" stroke="#000" stroke-width="2.8" stroke-linejoin="round" stroke-linecap="round"/>
<path d="M488.3 3744.5l32.5 28.5 12.5 10.3 13.2 9.4 9.2 5.6 19.3 9.8 44.6 19.3 54.2 24.2 29.1 14.4 23 14.1 39.8 27.9 22.8 14.5 37.5 21.5 14.4 7.5 14.6 6.9 15 6.1 25.7 8.5 26 7.1 41.9 10.5 21.1 4.6 21.3 3.8 59 7 64 26.2 34.5 15.4 34 16.5 28 14.3 21.9 12.3 10.7 6.7 10.3 7.2 9.7 8 4.5 4.4 16.3 19.2 8.6 9.2 14 12.6 28.7 24.6 13.2 13.4 11.9 14.7 52.2 71 27.2 34.5 32.6 38.4 62.9 70.4 9.1 8.7 14.5 12 10.4 7.2 11 5.9 5.9 2.2 6.1 1.6 24.8 4.4 27.4-.1 9.1-.5 15-2 6-1.2 8.7-2.6 14.2-5.6 19-9.4 21.4-11.6 36.3-22.3 18.5-10.6 24.2-12.7 27.5-13.1 27.9-12.1 28.5-10.5 23.5-6.1 26.8-5.6-11.5-13.5-6.2-6.3-14.1-10.7-22.8-13.7-39.2-20.7-24-11.5-48.6-21.5-24.6-10-57.9-22.3-40.6-17.7-23.9-11.6-110.5-56.4-63.4-31.8-40.2-18.5-32.8-13.5-16.7-5.9-42.4-13-67.2-22.4-59.4-17.8-25.7-7-25.9-6.1-26.1-4.8-70.3-9-79-11.1-30.6-12.7-18.5-9.1-10.5-6.6-13.4-9.8-22.1-18.6-24-22.8-8.5-9-8-9.5-5-6.6-6.3-10.7-10.9-22.3-20.5-35.9-15.4-29.3-19.8-31.5-9.8-22.8-3.8-7.4-2.3-3.4-16.1-18.9-15-19.8-8.4-9.1-24.3-22.4-6.4-5.2-3.5-2.3-3.8-1.6-4-.8-12.4-.7-16.9 2.5-10.9 3.3-6.8 3.4-8.1 4.9-10.7 7.9-16.9 15.2-30.4 25.8-38.6 33.7-17.8 14.2-24.3 18.2" fill="none" stroke="#000" stroke-width="2.8" stroke-linejoin="round" stroke-linecap="round"/>
<path d="M489 3752l20 24.8 8.5 9.2 8.9 7.4 14.1 8.6 39 20.3 20.5 9.7 12 4.8 69.7 24.3 18.3 6.9 15.4 6.6 24.6 11.4" fill="none" stroke="#000" stroke-width="2.8" stroke-linejoin="round" stroke-linecap="round"/>
<path d="M489 3756l24.2 31.7 4.3 4.8 8.9 8.4 9.2 6.9 9.7 6.3 34.2 20.1 15.2 7.5 17.3 6.8 69.3 21.1 18.7 6.4 18.8 7.8 31.2 14.2" fill="none" stroke="#000" stroke-width="2.8" stroke-linejoin="round" stroke-linecap="round"/>
<path d="M488.3 3744.5l36.6 32 7.6 6.1 16 11.4 9.1 5.4 19.2 9.6 40.3 17.3 49.3 22 29.4 13.9 19.6 11.1 19.6 13.1 29.2 20.5 19.7 12.8 38.9 22.6 29.5 14.9 19.7 8.1 20 6.6 20 5.7 51.4 13 36.6 7.4 15.7 1.9 23.9 1.7 16.7 2.4 8.7 2 11.7 3.5 12.2 4.3 25.4 10.6 26 12 53.4 25.8 42.3 21.9 24.6 14.9 10.2 7.3 5.7 4.8 9.4 9.6 16.3 19.4 4.8 4.9 6.2 5.8 34.3 29.3 6.5 6 10.9 11.6 9.1 11.2 55.7 75.7 30.5 38.3 35 40.6 55.3 61.8 11.7 10.9 13.4 10.8 9.4 6.5 9.6 5.1 9.1 3.4 9.2 2.3 14.3 2.2 15.1 1.1 15.9-.3 14.8-1.3 10.3-1.5 13.1-3.3 14.4-5.5 17.7-8.6 25.1-13.6 49.8-30.1 35.2-18.4 21.4-10 28.4-12.3 28.3-10.3 12.5-3.5 36.8-7.9" fill="none" stroke="#00ff00" stroke-width="6.5" stroke-linejoin="round" stroke-linecap="round"/>
<path d="M488.3 3744.5l32-24.2 10.3-8.4 72.3-62.4 13.5-12.2 14-9.9 8.6-4.9 6-2.5 12.5-3.3 6.3-.9 9-.5 6.2 .2 8.2 1.7 4.4 2.3 10.3 8.2 24.6 23.1 6.5 7.3 15.2 20.1 11.2 12.6 6.2 8.3 3.8 7.2 10.2 23.7 17 26.6 17 32.1 22.1 38.7 12.1 24.5 8.6 13 8.1 9.7 9.1 9.8 27 25.4 13 11.1 13.5 10.5 13.7 9.2 6.3 3.7 12.4 6.8 12.8 5.9 13.5 5 15.9 4.4 18.5 3.1 39.6 4.2 81.9 10.5 24.5 4.4 26.3 6.1 26.8 7.3 62.1 18.7 59.6 19.9 52.6 16.3 21.4 8 31.1 13.3 43.3 20.3 143.8 73.2 42.5 21 28.5 12.8 14.4 5.9 57.6 22.2 27.2 11.1 44.5 19.8 30.9 14.9 40.7 22 20 12.8 5.5 4.2 6.3 5.7 14.7 16.9" fill="none" stroke="#00ff00" stroke-width="6.5" stroke-linejoin="round" stroke-linecap="round"/>
<line x1="781.5" y1="3466.6" x2="664.2" y2="3515.5" stroke="#000" stroke-width="3.5"/><polygon points="622.7,3532.8 656.7,3492.1 675.5,3537.3" fill="#000"/>
<line x1="1452.7" y1="4616.4" x2="1617.1" y2="4572.5" stroke="#000" stroke-width="3.5"/><polygon points="1660.6,4560.9 1621.5,4596.7 1608.9,4549.4" fill="#000"/>
<line x1="575.2" y1="3612.3" x2="544.0" y2="3647.9" stroke="#7a7a7a" stroke-width="4" stroke-linecap="round"/><polygon points="511.7,3684.8 543.8,3613.2 546.6,3644.9 578.4,3643.5" fill="#7a7a7a"/>
<line x1="937.9" y1="3707.5" x2="900.4" y2="3654.5" stroke="#7a7a7a" stroke-width="4" stroke-linecap="round"/><polygon points="872.1,3614.5 934.2,3662.4 902.7,3657.8 896.6,3689.0" fill="#7a7a7a"/>
<line x1="652.3" y1="3919.6" x2="722.4" y2="3944.1" stroke="#7a7a7a" stroke-width="4" stroke-linecap="round"/><polygon points="768.7,3960.2 690.3,3957.2 718.7,3942.7 705.5,3913.8" fill="#7a7a7a"/>
<line x1="1132.3" y1="4211.4" x2="1159.4" y2="4260.8" stroke="#7a7a7a" stroke-width="4" stroke-linecap="round"/><polygon points="1182.9,4303.8 1126.7,4249.1 1157.4,4257.3 1167.0,4227.0" fill="#7a7a7a"/>
<line x1="1732.5" y1="4134.2" x2="1670.5" y2="4109.7" stroke="#7a7a7a" stroke-width="4" stroke-linecap="round"/><polygon points="1624.9,4091.7 1703.1,4097.9 1674.2,4111.2 1686.2,4140.6" fill="#7a7a7a"/>
<line x1="1769.4" y1="4482.7" x2="1840.2" y2="4453.3" stroke="#7a7a7a" stroke-width="4" stroke-linecap="round"/><polygon points="1885.5,4434.5 1825.1,4484.5 1836.6,4454.8 1807.4,4442.0" fill="#7a7a7a"/>
<line x1="514.7" y1="4275.8" x2="650.1" y2="4275.8" stroke="#ff0000" stroke-width="4.5"/>
<line x1="514.7" y1="4351.8" x2="650.1" y2="4351.8" stroke="#222" stroke-width="4.5"/>
<line x1="514.7" y1="4422" x2="654.6" y2="4422" stroke="#00ff00" stroke-width="9"/>
<text x="683.2" y="4294.4" font-family="'Liberation Sans',Arial,sans-serif" font-size="58" stroke="#000" stroke-width="0.5">cycle 1</text>
<text x="683.2" y="4370.3" font-family="'Liberation Sans',Arial,sans-serif" font-size="58" stroke="#000" stroke-width="0.5">cycles 2-29</text>
<text x="683.2" y="4440.6" font-family="'Liberation Sans',Arial,sans-serif" font-size="58" stroke="#000" stroke-width="0.5">cycle 30</text>
</svg>
</body></html>
